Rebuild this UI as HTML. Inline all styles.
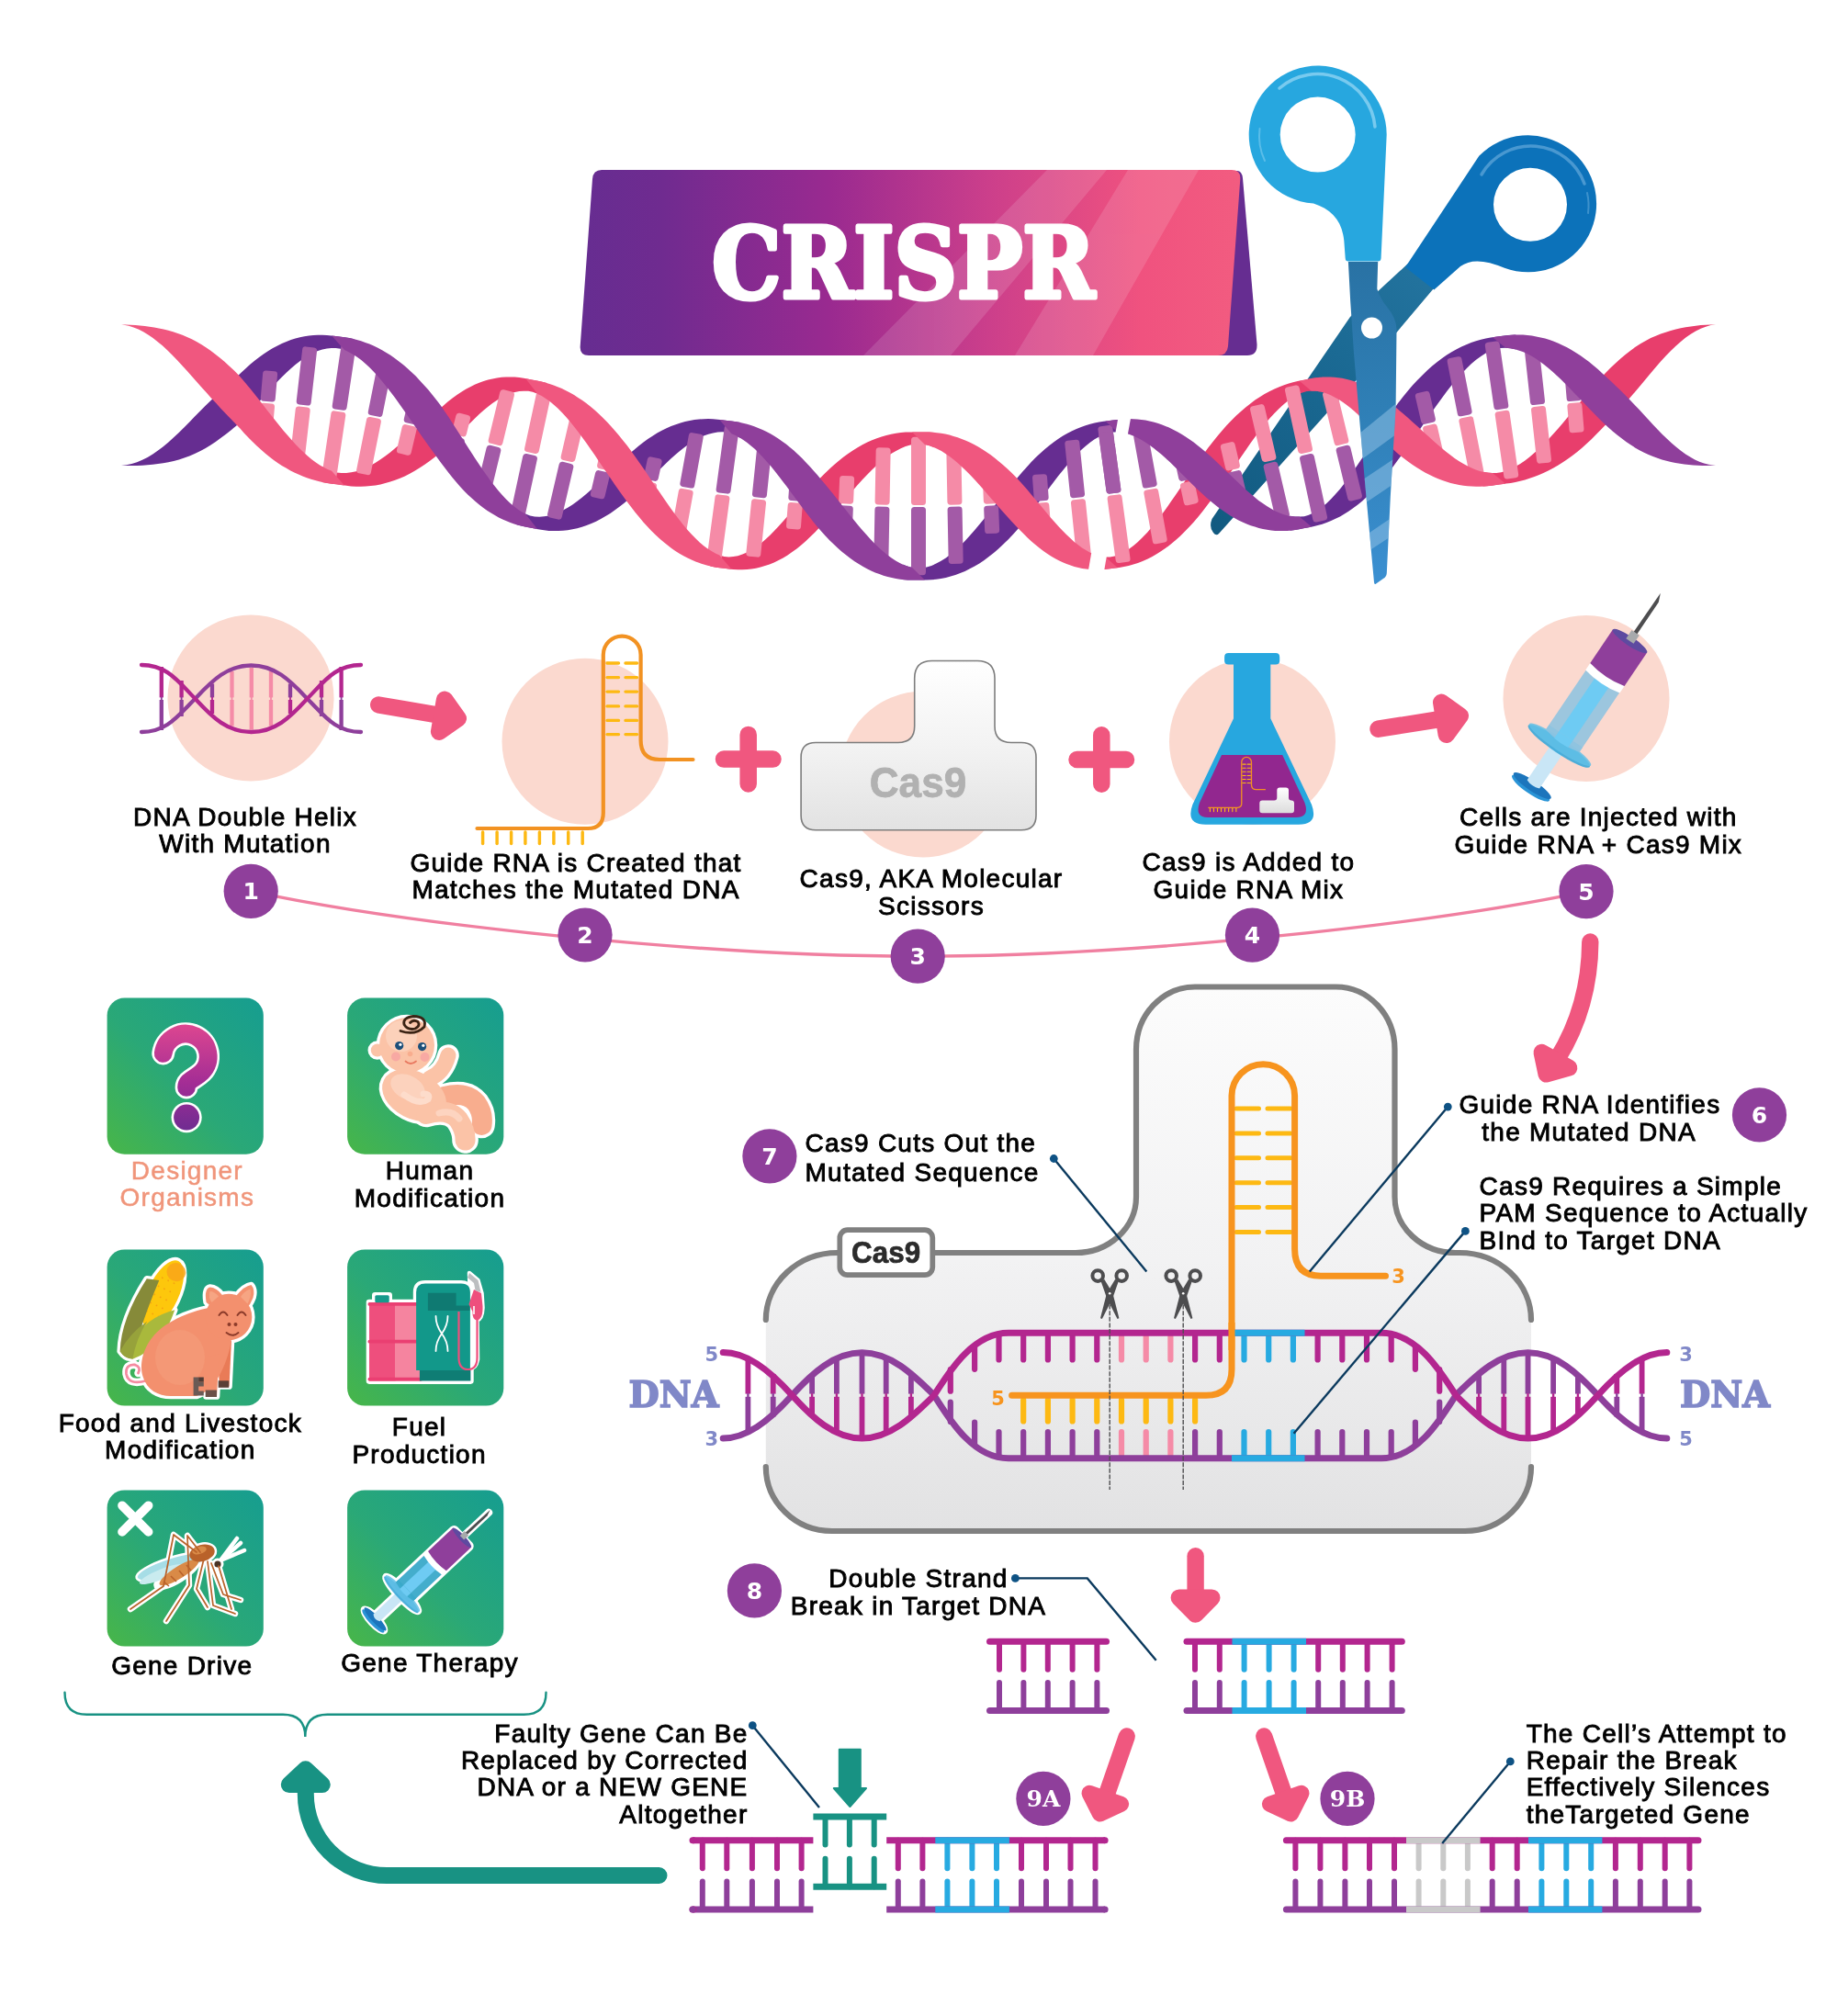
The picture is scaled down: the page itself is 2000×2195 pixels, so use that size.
<!DOCTYPE html>
<html lang="en"><head><meta charset="utf-8"><title>CRISPR</title>
<style>html,body{margin:0;padding:0;background:#fff}svg{display:block;will-change:transform}text{font-family:'Liberation Sans', sans-serif}</style>
</head><body>
<svg width="2000" height="2195" viewBox="0 0 2000 2195">
<rect width="2000" height="2195" fill="#fff"/>
<!-- top -->
<defs>
<linearGradient id="bnr" x1="0" y1="0" x2="1" y2="0">
<stop offset="0" stop-color="#662d91"/><stop offset="0.12" stop-color="#6f2b90"/><stop offset="0.38" stop-color="#9a2a90"/><stop offset="0.62" stop-color="#cc3f8b"/><stop offset="0.85" stop-color="#f0527f"/><stop offset="1" stop-color="#f25c80"/>
</linearGradient>
<clipPath id="bnrclip"><path d="M655 185H1341Q1351 185 1350.3 195L1337 377Q1336 387 1326 387H641Q631 387 631.7 377L645 195Q645.7 185 655 185Z"/></clipPath>
</defs>
<path d="M1330 188L1347 186Q1352 186 1353 194L1368.5 375Q1369 387 1358 387H1320Z" fill="#662d91"/>
<path d="M655 185H1341Q1351 185 1350.3 195L1337 377Q1336 387 1326 387H641Q631 387 631.7 377L645 195Q645.7 185 655 185Z" fill="url(#bnr)"/>
<g clip-path="url(#bnrclip)" fill="#fff" opacity="0.13">
<polygon points="1140,185 1205,185 1035,387 940,387"/>
<polygon points="1228,185 1305,185 1190,387 1105,387"/>
</g>
<text x="983.5" y="323.5" text-anchor="middle" style="font-family:'DejaVu Serif', 'Liberation Serif', serif" font-weight="bold" font-size="107" fill="#fff" stroke="#fff" stroke-width="5" stroke-linejoin="round" textLength="417" lengthAdjust="spacingAndGlyphs">CRISPR</text>

<defs><linearGradient id="bl2" x1="1560" y1="300" x2="1320" y2="580" gradientUnits="userSpaceOnUse">
<stop offset="0" stop-color="#23739e"/><stop offset="0.35" stop-color="#1b6a94"/><stop offset="1" stop-color="#125a80"/></linearGradient></defs>
<path d="M1535 285L1470 345L1319.5 565Q1316 574 1321 580Q1324 584 1327 581L1474 417L1566 308Z" fill="url(#bl2)"/>
<path d="M132 506.7 L137.7 506.2 L143.4 505 L149.1 503.2 L154.9 500.8 L160.6 497.9 L166.3 494.5 L172 490.5 L177.7 486.2 L183.4 481.4 L189.1 476.3 L194.8 470.9 L200.6 465.2 L206.3 459.5 L212 453.6 L217.7 447.8 L223.4 442.1 L229.1 436.6 L234.8 431.1 L240.5 425.7 L246.3 420.4 L252 415.3 L257.7 410.3 L262.8 405.5 L267.7 400.9 L272.6 396.6 L277.5 392.5 L282.4 388.7 L287.3 385.2 L292.2 382 L297.1 379.1 L302 376.4 L306.9 374 L311.8 372 L316.7 370.1 L321.6 368.6 L326.5 367.3 L331.4 366.3 L336.3 365.5 L341.2 365 L346.1 364.7 L351 364.7 L355.9 364.9 L360.8 365.4 L365.7 366 L370.7 366.7 L375.6 367.3 L380.6 368.1 L385.5 369.2 L385.5 386.5 L380.6 383.7 L375.6 381.4 L370.7 379.7 L365.7 378.9 L360.8 378.9 L355.9 379.4 L351 380.5 L346.1 382.1 L341.2 384.2 L336.3 386.8 L331.4 389.8 L326.5 393.3 L321.6 397.1 L316.7 401.3 L311.8 405.8 L306.9 410.6 L302 415.6 L297.1 420.8 L292.2 426.1 L287.3 431.5 L282.4 437 L277.5 442.4 L272.6 447.8 L267.7 453.1 L262.8 458.2 L257.7 463.2 L252 467.9 L246.3 472.5 L240.5 476.8 L234.8 480.9 L229.1 484.7 L223.4 488.2 L217.7 491.3 L212 494.1 L206.3 496.5 L200.6 498.6 L194.8 500.4 L189.1 501.9 L183.4 503.2 L177.7 504.2 L172 505.1 L166.3 505.8 L160.6 506.3 L154.9 506.7 L149.1 506.9 L143.4 506.9 L137.7 506.9 L132 506.7Z" fill="#662d91"/>
<path d="M350.7 507.9 L355.9 510.7 L361.2 512.9 L366.4 514.4 L371.7 515.1 L377.1 515 L382.4 514.3 L387.7 513.2 L393 511.5 L398.3 509.3 L403.6 506.7 L408.9 503.7 L414.2 500.3 L419.6 496.5 L424.9 492.4 L430.2 488.1 L435.5 483.5 L440.8 478.8 L446.1 474 L451.4 469.1 L456.7 464.2 L462.1 459.4 L467.4 454.7 L472.7 450.1 L478 445.7 L482.9 441.4 L487.7 437.3 L492.6 433.5 L497.4 430 L502.3 426.7 L507.1 423.8 L512 421.2 L516.8 418.8 L521.7 416.8 L526.5 415 L531.4 413.5 L536.2 412.4 L541.1 411.5 L546 410.8 L550.8 410.5 L555.7 410.4 L560.5 410.6 L565.4 411 L570.2 411.8 L575.1 412.7 L580 413.7 L585.2 414.7 L590.3 415.8 L595.5 417.1 L595.5 434.8 L590.3 431.5 L585.2 428.8 L580 426.8 L575.1 425.8 L570.2 425.7 L565.4 426.1 L560.5 427 L555.7 428.5 L550.8 430.5 L546 432.9 L541.1 435.8 L536.2 439.1 L531.4 442.8 L526.5 446.8 L521.7 451.1 L516.8 455.7 L512 460.4 L507.1 465.2 L502.3 470.2 L497.4 475.1 L492.6 480 L487.7 484.8 L482.9 489.5 L478 494.1 L472.7 498.3 L467.4 502.3 L462.1 506.1 L456.7 509.6 L451.4 512.8 L446.1 515.7 L440.8 518.4 L435.5 520.8 L430.2 522.8 L424.9 524.6 L419.6 526.1 L414.2 527.4 L408.9 528.4 L403.6 529.1 L398.3 529.5 L393 529.7 L387.7 529.7 L382.4 529.4 L377.1 528.8 L371.7 528.1 L366.4 527.3 L361.2 526.7 L355.9 525.9 L350.7 524.9Z" fill="#e83e6c"/>
<path d="M562.5 553.6 L567.4 556.9 L572.2 559.5 L577.1 561.4 L582.1 562.4 L587.3 562.7 L592.4 562.3 L597.6 561.4 L602.7 560 L607.8 558 L613 555.6 L618.1 552.8 L623.3 549.5 L628.4 545.8 L633.6 541.8 L638.7 537.5 L643.8 532.9 L649 528.2 L654.1 523.3 L659.3 518.4 L664.4 513.4 L669.6 508.5 L674.7 503.6 L679.9 498.9 L685 494.3 L690.1 489.9 L695.1 485.7 L700.2 481.8 L705.3 478.1 L710.4 474.7 L715.4 471.6 L720.5 468.8 L725.6 466.3 L730.6 464.1 L735.7 462.2 L740.8 460.5 L745.9 459.1 L750.9 458 L756 457.1 L761.1 456.5 L766.1 456.2 L771.2 456.1 L776.3 456.3 L781.4 456.7 L786.4 457.3 L791.5 458 L796.4 458.5 L801.3 459.2 L806.2 460.1 L806.2 477 L801.3 474.4 L796.4 472.3 L791.5 470.8 L786.4 470.3 L781.4 470.6 L776.3 471.4 L771.2 472.7 L766.1 474.5 L761.1 476.9 L756 479.6 L750.9 482.9 L745.9 486.5 L740.8 490.4 L735.7 494.7 L730.6 499.2 L725.6 504 L720.5 508.9 L715.4 513.9 L710.4 518.9 L705.3 524 L700.2 528.9 L695.1 533.8 L690.1 538.6 L685 543.1 L679.9 547.5 L674.7 551.5 L669.6 555.3 L664.4 558.9 L659.3 562.1 L654.1 565 L649 567.7 L643.8 570 L638.7 572 L633.6 573.7 L628.4 575.2 L623.3 576.3 L618.1 577.2 L613 577.8 L607.8 578.1 L602.7 578.1 L597.6 577.9 L592.4 577.3 L587.3 576.6 L582.1 575.6 L577.1 574.5 L572.2 573.6 L567.4 572.6 L562.5 571.3Z" fill="#662d91"/>
<path d="M773.3 599.3 L778.4 602.2 L783.4 604.4 L788.5 606 L793.5 606.5 L798.4 606.1 L803.3 605.2 L808.3 603.6 L813.2 601.5 L818.1 598.8 L823 595.6 L828 592 L832.9 587.8 L837.8 583.2 L842.7 578.3 L847.7 573.1 L852.6 567.6 L857.5 561.9 L862.4 556.1 L867.4 550.2 L872.3 544.3 L877.2 538.4 L882.1 532.6 L887.1 526.9 L892 521.4 L897.2 516.2 L902.4 511.2 L907.6 506.4 L912.9 502 L918.1 497.8 L923.3 494 L928.5 490.4 L933.7 487.2 L938.9 484.3 L944.2 481.6 L949.4 479.3 L954.6 477.3 L959.8 475.5 L965 474 L970.2 472.8 L975.5 471.8 L980.7 471.1 L985.9 470.6 L991.1 470.4 L996.3 470.4 L1001.5 470.5 L1006.8 470.4 L1012 470.5 L1017.2 470.9 L1017.2 487.2 L1012 485.3 L1006.8 483.9 L1001.5 483.2 L996.3 483.4 L991.1 484.4 L985.9 486 L980.7 488.2 L975.5 490.9 L970.2 494.1 L965 497.8 L959.8 502 L954.6 506.6 L949.4 511.5 L944.2 516.8 L938.9 522.3 L933.7 528 L928.5 533.9 L923.3 539.9 L918.1 545.9 L912.9 551.9 L907.6 557.8 L902.4 563.6 L897.2 569.2 L892 574.6 L887.1 579.7 L882.1 584.6 L877.2 589.2 L872.3 593.5 L867.4 597.5 L862.4 601.1 L857.5 604.4 L852.6 607.4 L847.7 610.1 L842.7 612.4 L837.8 614.4 L832.9 616.1 L828 617.5 L823 618.7 L818.1 619.5 L813.2 620.1 L808.3 620.3 L803.3 620.3 L798.4 620 L793.5 619.4 L788.5 618.8 L783.4 618.3 L778.4 617.5 L773.3 616.5Z" fill="#e83e6c"/>
<path d="M982.8 614.6 L988 616.6 L993.2 618.1 L998.5 618.8 L1003.7 618.6 L1008.9 617.6 L1014.1 615.9 L1019.3 613.6 L1024.5 610.8 L1029.8 607.4 L1035 603.4 L1040.2 599 L1045.4 594.2 L1050.6 588.9 L1055.8 583.2 L1061.1 577.3 L1066.3 571.1 L1071.5 564.8 L1076.7 558.3 L1081.9 551.7 L1087.1 545.1 L1092.4 538.6 L1097.6 532.2 L1102.8 525.9 L1108 519.8 L1112.9 514 L1117.9 508.4 L1122.8 503.1 L1127.7 498.1 L1132.6 493.4 L1137.6 489 L1142.5 484.9 L1147.4 481.2 L1152.3 477.8 L1157.3 474.6 L1162.2 471.8 L1167.1 469.2 L1172 467 L1177 465 L1181.9 463.2 L1186.8 461.7 L1191.7 460.5 L1196.7 459.5 L1201.6 458.7 L1206.5 458.2 L1211.5 457.6 L1216.6 456.9 L1221.6 456.4 L1226.7 456.2 L1226.7 472.1 L1221.6 471 L1216.6 470.4 L1211.5 470.4 L1206.5 471.4 L1201.6 473.1 L1196.7 475.4 L1191.7 478.3 L1186.8 481.7 L1181.9 485.7 L1177 490.1 L1172 495 L1167.1 500.3 L1162.2 505.9 L1157.3 511.9 L1152.3 518.1 L1147.4 524.5 L1142.5 531.1 L1137.6 537.7 L1132.6 544.4 L1127.7 551 L1122.8 557.6 L1117.9 564 L1112.9 570.2 L1108 576.2 L1102.8 581.9 L1097.6 587.4 L1092.4 592.6 L1087.1 597.4 L1081.9 601.9 L1076.7 606.1 L1071.5 609.9 L1066.3 613.4 L1061.1 616.5 L1055.8 619.3 L1050.6 621.9 L1045.4 624.1 L1040.2 626 L1035 627.6 L1029.8 628.9 L1024.5 630 L1019.3 630.8 L1014.1 631.3 L1008.9 631.6 L1003.7 631.6 L998.5 631.5 L993.2 631.6 L988 631.4 L982.8 631Z" fill="#662d91"/>
<path d="M1193.8 604.3 L1198.7 605.7 L1203.6 606.4 L1208.5 606.4 L1213.6 605.4 L1218.6 603.6 L1223.7 601.1 L1228.8 598 L1233.9 594.2 L1238.9 589.9 L1244 585 L1249.1 579.7 L1254.1 573.8 L1259.2 567.5 L1264.3 560.9 L1269.4 554 L1274.4 546.8 L1279.5 539.5 L1284.6 532 L1289.6 524.5 L1294.7 517 L1299.8 509.5 L1304.9 502.2 L1309.9 495.1 L1315 488.1 L1320.1 481.4 L1325.3 475 L1330.4 468.9 L1335.6 463.1 L1340.7 457.7 L1345.9 452.6 L1351 447.9 L1356.2 443.5 L1361.3 439.4 L1366.4 435.6 L1371.6 432.2 L1376.7 429.1 L1381.9 426.3 L1387 423.8 L1392.2 421.5 L1397.3 419.5 L1402.4 417.8 L1407.6 416.3 L1412.7 415.1 L1417.9 414.1 L1422.9 413.1 L1427.8 412.1 L1432.6 411.3 L1437.5 410.7 L1437.5 426.6 L1432.6 425.8 L1427.8 425.7 L1422.9 426.1 L1417.9 427.5 L1412.7 429.8 L1407.6 432.8 L1402.4 436.3 L1397.3 440.5 L1392.2 445.2 L1387 450.4 L1381.9 456.1 L1376.7 462.3 L1371.6 468.8 L1366.4 475.7 L1361.3 482.8 L1356.2 490.2 L1351 497.7 L1345.9 505.3 L1340.7 512.9 L1335.6 520.4 L1330.4 527.9 L1325.3 535.3 L1320.1 542.4 L1315 549.3 L1309.9 555.9 L1304.9 562.2 L1299.8 568.2 L1294.7 573.8 L1289.6 579.1 L1284.6 584 L1279.5 588.5 L1274.4 592.7 L1269.4 596.6 L1264.3 600.1 L1259.2 603.3 L1254.1 606.2 L1249.1 608.7 L1244 611 L1238.9 612.9 L1233.9 614.6 L1228.8 616 L1223.7 617.1 L1218.6 618 L1213.6 618.6 L1208.5 619.2 L1203.6 619.8 L1198.7 620.2 L1193.8 620.3Z" fill="#e83e6c"/>
<path d="M1404.5 561.8 L1409.7 562.5 L1414.8 562.6 L1420 562.2 L1424.9 560.7 L1429.8 558.5 L1434.6 555.6 L1439.5 552.1 L1444.3 548 L1449.2 543.3 L1454 538.1 L1458.9 532.4 L1463.8 526.3 L1468.6 519.8 L1473.5 512.9 L1478.3 505.7 L1483.2 498.4 L1488 490.9 L1492.9 483.3 L1497.7 475.6 L1502.6 468 L1507.4 460.5 L1512.3 453.1 L1517.1 446 L1522 439 L1527.3 432.3 L1532.6 425.8 L1537.9 419.6 L1543.3 413.8 L1548.6 408.4 L1553.9 403.3 L1559.2 398.6 L1564.5 394.3 L1569.8 390.3 L1575.1 386.6 L1580.4 383.3 L1585.8 380.3 L1591.1 377.6 L1596.4 375.2 L1601.7 373.1 L1607 371.3 L1612.3 369.8 L1617.6 368.5 L1622.9 367.5 L1628.3 366.8 L1633.6 366.1 L1639.2 365.3 L1644.7 364.8 L1650.3 364.5 L1650.3 380.5 L1644.7 379.3 L1639.2 378.8 L1633.6 378.9 L1628.3 380 L1622.9 382 L1617.6 384.6 L1612.3 387.9 L1607 391.8 L1601.7 396.3 L1596.4 401.4 L1591.1 406.9 L1585.8 413 L1580.4 419.4 L1575.1 426.2 L1569.8 433.4 L1564.5 440.7 L1559.2 448.3 L1553.9 455.9 L1548.6 463.6 L1543.3 471.3 L1537.9 478.9 L1532.6 486.4 L1527.3 493.7 L1522 500.8 L1517.1 507.5 L1512.3 513.9 L1507.4 520 L1502.6 525.8 L1497.7 531.2 L1492.9 536.3 L1488 541 L1483.2 545.4 L1478.3 549.4 L1473.5 553.1 L1468.6 556.5 L1463.8 559.6 L1458.9 562.4 L1454 564.8 L1449.2 567.1 L1444.3 569 L1439.5 570.7 L1434.6 572.1 L1429.8 573.2 L1424.9 574.2 L1420 575.1 L1414.8 576.2 L1409.7 577.1 L1404.5 577.7Z" fill="#662d91"/>
<path d="M1614.5 513.7 L1619.4 514.6 L1624.4 515.1 L1629.3 515 L1634.4 514.3 L1639.6 512.7 L1644.7 510.6 L1649.9 508 L1655.1 504.9 L1660.3 501.4 L1665.4 497.5 L1670.6 493.1 L1675.8 488.4 L1680.9 483.3 L1686.1 477.9 L1691.3 472.3 L1696.5 466.4 L1701.6 460.4 L1706.8 454.2 L1712 448 L1717.2 441.7 L1722.3 435.4 L1727.5 429.2 L1732.7 423.1 L1737.8 417.1 L1743 411.3 L1748.3 405.7 L1753.7 400.3 L1759.1 395.2 L1764.6 390.3 L1770 385.7 L1775.5 381.4 L1780.9 377.5 L1786.4 374 L1791.8 370.9 L1797.2 368.1 L1802.7 365.7 L1808.1 363.6 L1813.6 361.7 L1819 360 L1824.5 358.6 L1829.9 357.3 L1835.3 356.3 L1840.8 355.4 L1846.2 354.7 L1851.7 354.1 L1857.1 353.7 L1862.6 353.5 L1868 353.3 L1868 353.3 L1862.6 354.1 L1857.1 355.7 L1851.7 357.8 L1846.2 360.5 L1840.8 363.8 L1835.3 367.6 L1829.9 372 L1824.5 376.8 L1819 382 L1813.6 387.6 L1808.1 393.6 L1802.7 399.8 L1797.2 406.2 L1791.8 412.7 L1786.4 419.2 L1780.9 425.7 L1775.5 432.1 L1770 438.3 L1764.6 444.4 L1759.1 450.5 L1753.7 456.4 L1748.3 462.2 L1743 467.7 L1737.8 473.1 L1732.7 478.2 L1727.5 483.1 L1722.3 487.7 L1717.2 492 L1712 496 L1706.8 499.8 L1701.6 503.3 L1696.5 506.6 L1691.3 509.5 L1686.1 512.3 L1680.9 514.8 L1675.8 517 L1670.6 519 L1665.4 520.8 L1660.3 522.4 L1655.1 523.7 L1649.9 524.9 L1644.7 525.9 L1639.6 526.6 L1634.4 527.2 L1629.3 527.9 L1624.4 528.7 L1619.4 529.2 L1614.5 529.6Z" fill="#e83e6c"/>
<g transform="translate(291.4 438.1) rotate(5)"><rect x="-8" y="-34.4" width="16" height="33.4" rx="3.5" fill="#a35aa7"/><rect x="-8" y="1" width="16" height="33.4" rx="3.5" fill="#f58ba7"/></g>
<g transform="translate(330.2 442) rotate(6.5)"><rect x="-8" y="-64.5" width="16" height="63.5" rx="3.5" fill="#a35aa7"/><rect x="-8" y="1" width="16" height="63.5" rx="3.5" fill="#f58ba7"/></g>
<g transform="translate(369 447.1) rotate(8.5)"><rect x="-8" y="-75.2" width="16" height="74.2" rx="3.5" fill="#a35aa7"/><rect x="-8" y="1" width="16" height="74.2" rx="3.5" fill="#f58ba7"/></g>
<g transform="translate(407.8 453.9) rotate(11.3)"><rect x="-8" y="-63.5" width="16" height="62.5" rx="3.5" fill="#a35aa7"/><rect x="-8" y="1" width="16" height="62.5" rx="3.5" fill="#f58ba7"/></g>
<g transform="translate(446.6 462.3) rotate(13.1)"><rect x="-8" y="-33.2" width="16" height="32.2" rx="3.5" fill="#a35aa7"/><rect x="-8" y="1" width="16" height="32.2" rx="3.5" fill="#f58ba7"/></g>
<g transform="translate(499 475.1) rotate(14)"><rect x="-8" y="-24.9" width="16" height="23.9" rx="3.5" fill="#f58ba7"/><rect x="-8" y="1" width="16" height="23.9" rx="3.5" fill="#a35aa7"/></g>
<g transform="translate(538.5 484.9) rotate(13.6)"><rect x="-8" y="-61.2" width="16" height="60.2" rx="3.5" fill="#f58ba7"/><rect x="-8" y="1" width="16" height="60.2" rx="3.5" fill="#a35aa7"/></g>
<g transform="translate(578 494) rotate(12.2)"><rect x="-8" y="-75.2" width="16" height="74.2" rx="3.5" fill="#f58ba7"/><rect x="-8" y="1" width="16" height="74.2" rx="3.5" fill="#a35aa7"/></g>
<g transform="translate(617.5 502.9) rotate(13.1)"><rect x="-8" y="-63.3" width="16" height="62.3" rx="3.5" fill="#f58ba7"/><rect x="-8" y="1" width="16" height="62.3" rx="3.5" fill="#a35aa7"/></g>
<g transform="translate(657 512.2) rotate(13.2)"><rect x="-8" y="-30.8" width="16" height="29.8" rx="3.5" fill="#f58ba7"/><rect x="-8" y="1" width="16" height="29.8" rx="3.5" fill="#a35aa7"/></g>
<g transform="translate(708 523.8) rotate(12.1)"><rect x="-8" y="-26" width="16" height="25" rx="3.5" fill="#a35aa7"/><rect x="-8" y="1" width="16" height="25" rx="3.5" fill="#f58ba7"/></g>
<g transform="translate(747.5 531.7) rotate(10.3)"><rect x="-8" y="-60.7" width="16" height="59.7" rx="3.5" fill="#a35aa7"/><rect x="-8" y="1" width="16" height="59.7" rx="3.5" fill="#f58ba7"/></g>
<g transform="translate(787 538) rotate(7.7)"><rect x="-8" y="-75.1" width="16" height="74.1" rx="3.5" fill="#a35aa7"/><rect x="-8" y="1" width="16" height="74.1" rx="3.5" fill="#f58ba7"/></g>
<g transform="translate(826.5 542.7) rotate(5.9)"><rect x="-8" y="-63.8" width="16" height="62.8" rx="3.5" fill="#a35aa7"/><rect x="-8" y="1" width="16" height="62.8" rx="3.5" fill="#f58ba7"/></g>
<g transform="translate(866 546.3) rotate(4.3)"><rect x="-8" y="-29.9" width="16" height="28.9" rx="3.5" fill="#a35aa7"/><rect x="-8" y="1" width="16" height="28.9" rx="3.5" fill="#f58ba7"/></g>
<g transform="translate(921 549.5) rotate(2.3)"><rect x="-8" y="-31.4" width="16" height="30.4" rx="3.5" fill="#f58ba7"/><rect x="-8" y="1" width="16" height="30.4" rx="3.5" fill="#a35aa7"/></g>
<g transform="translate(960.5 550.6) rotate(1.1)"><rect x="-8" y="-63.3" width="16" height="62.3" rx="3.5" fill="#f58ba7"/><rect x="-8" y="1" width="16" height="62.3" rx="3.5" fill="#a35aa7"/></g>
<g transform="translate(1000 551) rotate(0)"><rect x="-8" y="-75.2" width="16" height="74.2" rx="3.5" fill="#f58ba7"/><rect x="-8" y="1" width="16" height="74.2" rx="3.5" fill="#a35aa7"/></g>
<g transform="translate(1039.5 550.6) rotate(-1.1)"><rect x="-8" y="-63.3" width="16" height="62.3" rx="3.5" fill="#f58ba7"/><rect x="-8" y="1" width="16" height="62.3" rx="3.5" fill="#a35aa7"/></g>
<g transform="translate(1079 549.5) rotate(-2.3)"><rect x="-8" y="-31.4" width="16" height="30.4" rx="3.5" fill="#f58ba7"/><rect x="-8" y="1" width="16" height="30.4" rx="3.5" fill="#a35aa7"/></g>
<g transform="translate(1134 546.3) rotate(-4.3)"><rect x="-8" y="-29.9" width="16" height="28.9" rx="3.5" fill="#a35aa7"/><rect x="-8" y="1" width="16" height="28.9" rx="3.5" fill="#f58ba7"/></g>
<g transform="translate(1173.5 542.7) rotate(-5.9)"><rect x="-8" y="-63.8" width="16" height="62.8" rx="3.5" fill="#a35aa7"/><rect x="-8" y="1" width="16" height="62.8" rx="3.5" fill="#f58ba7"/></g>
<g transform="translate(1213 538) rotate(-7.7)"><rect x="-8" y="-75.1" width="16" height="74.1" rx="3.5" fill="#a35aa7"/><rect x="-8" y="1" width="16" height="74.1" rx="3.5" fill="#f58ba7"/></g>
<g transform="translate(1252.5 531.7) rotate(-10.3)"><rect x="-8" y="-60.7" width="16" height="59.7" rx="3.5" fill="#a35aa7"/><rect x="-8" y="1" width="16" height="59.7" rx="3.5" fill="#f58ba7"/></g>
<g transform="translate(1292 523.8) rotate(-12.1)"><rect x="-8" y="-26" width="16" height="25" rx="3.5" fill="#a35aa7"/><rect x="-8" y="1" width="16" height="25" rx="3.5" fill="#f58ba7"/></g>
<g transform="translate(1343 512.2) rotate(-13.2)"><rect x="-8" y="-30.8" width="16" height="29.8" rx="3.5" fill="#f58ba7"/><rect x="-8" y="1" width="16" height="29.8" rx="3.5" fill="#a35aa7"/></g>
<g transform="translate(1382.5 502.9) rotate(-13.1)"><rect x="-8" y="-63.3" width="16" height="62.3" rx="3.5" fill="#f58ba7"/><rect x="-8" y="1" width="16" height="62.3" rx="3.5" fill="#a35aa7"/></g>
<g transform="translate(1422 494) rotate(-12.2)"><rect x="-8" y="-75.2" width="16" height="74.2" rx="3.5" fill="#f58ba7"/><rect x="-8" y="1" width="16" height="74.2" rx="3.5" fill="#a35aa7"/></g>
<g transform="translate(1461.5 484.9) rotate(-13.6)"><rect x="-8" y="-61.2" width="16" height="60.2" rx="3.5" fill="#f58ba7"/><rect x="-8" y="1" width="16" height="60.2" rx="3.5" fill="#a35aa7"/></g>
<g transform="translate(1501 475.1) rotate(-14)"><rect x="-8" y="-24.9" width="16" height="23.9" rx="3.5" fill="#f58ba7"/><rect x="-8" y="1" width="16" height="23.9" rx="3.5" fill="#a35aa7"/></g>
<g transform="translate(1556 461.7) rotate(-13)"><rect x="-8" y="-35.6" width="16" height="34.6" rx="3.5" fill="#a35aa7"/><rect x="-8" y="1" width="16" height="34.6" rx="3.5" fill="#f58ba7"/></g>
<g transform="translate(1595.5 453.3) rotate(-11.1)"><rect x="-8" y="-65.3" width="16" height="64.3" rx="3.5" fill="#a35aa7"/><rect x="-8" y="1" width="16" height="64.3" rx="3.5" fill="#f58ba7"/></g>
<g transform="translate(1635 446.5) rotate(-8.2)"><rect x="-8" y="-75.1" width="16" height="74.1" rx="3.5" fill="#a35aa7"/><rect x="-8" y="1" width="16" height="74.1" rx="3.5" fill="#f58ba7"/></g>
<g transform="translate(1674.5 441.5) rotate(-6.3)"><rect x="-8" y="-63" width="16" height="62" rx="3.5" fill="#a35aa7"/><rect x="-8" y="1" width="16" height="62" rx="3.5" fill="#f58ba7"/></g>
<g transform="translate(1714 437.7) rotate(-4.8)"><rect x="-8" y="-33.3" width="16" height="32.3" rx="3.5" fill="#a35aa7"/><rect x="-8" y="1" width="16" height="32.3" rx="3.5" fill="#f58ba7"/></g>
<path d="M132 353.3 L137.1 353.5 L142.2 353.7 L147.4 354 L152.5 354.4 L157.6 355 L162.7 355.7 L167.9 356.5 L173 357.5 L178.1 358.6 L183.2 359.8 L188.4 361.3 L193.5 362.9 L198.6 364.8 L203.7 366.9 L208.8 369.2 L214 371.9 L219.1 374.9 L224.2 378.2 L229.3 381.8 L234.5 385.7 L239.6 389.8 L244.7 394.1 L249.8 398.7 L255 403.4 L259.9 408.4 L264.3 413.5 L268.7 418.7 L273.1 424.1 L277.5 429.6 L281.9 435.1 L286.3 440.8 L290.7 446.4 L295.1 452 L299.5 457.6 L303.9 463 L308.3 468.4 L312.7 473.6 L317.1 478.6 L321.5 483.4 L325.9 488 L330.3 492.3 L334.7 496.3 L339.1 499.9 L343.5 503.2 L347.9 506.2 L352.3 508.8 L356.7 511 L361.1 512.8 L375 528.6 L370.4 527.9 L365.9 527.3 L361.3 526.7 L356.8 526.1 L352.2 525.3 L347.7 524.3 L343.1 523.1 L338.6 521.8 L334.1 520.2 L329.5 518.5 L325 516.6 L320.4 514.5 L315.9 512.2 L311.4 509.6 L306.8 506.9 L302.3 503.9 L297.7 500.7 L293.2 497.2 L288.6 493.5 L284.1 489.6 L279.6 485.5 L275 481.1 L270.5 476.5 L265.9 471.7 L261.4 466.6 L256.5 461.4 L251.2 456 L245.9 450.5 L240.6 444.9 L235.3 439.1 L230 433.4 L224.8 427.6 L219.5 421.7 L214.2 415.7 L208.9 409.7 L203.6 403.7 L198.3 397.9 L193 392.2 L187.7 386.7 L182.4 381.5 L177.1 376.6 L171.8 372.2 L166.5 368.1 L161.3 364.4 L156 361.3 L150.7 358.6 L145.4 356.4 L140.1 354.7Z" fill="#f0577f"/>
<path d="M361.1 365.4 L365.6 366 L370.2 366.6 L374.7 367.2 L379.3 367.9 L383.9 368.8 L388.5 370 L393.1 371.3 L397.7 372.9 L402.2 374.6 L406.8 376.6 L411.4 378.8 L416 381.2 L420.6 383.9 L425.2 386.8 L429.7 389.9 L434.3 393.4 L438.9 397 L443.5 401 L448.1 405.2 L452.7 409.6 L457.2 414.4 L461.8 419.4 L466.4 424.6 L471 430.2 L475.6 435.9 L480 441.8 L484.2 447.9 L488.4 454.1 L492.5 460.5 L496.7 466.9 L500.9 473.5 L505.1 480.1 L509.3 486.7 L513.5 493.2 L517.7 499.7 L521.9 506 L526 512.2 L530.2 518.1 L534.4 523.9 L538.6 529.3 L542.8 534.4 L547 539.2 L551.2 543.7 L555.4 547.7 L559.5 551.3 L563.7 554.5 L567.9 557.2 L572.1 559.4 L585.3 576.2 L580.8 575.3 L576.5 574.4 L572.3 573.7 L568.1 572.8 L564 571.7 L559.8 570.4 L555.6 569 L551.4 567.3 L547.2 565.4 L543 563.4 L538.8 561.1 L534.6 558.6 L530.5 555.9 L526.3 552.9 L522.1 549.7 L517.9 546.3 L513.7 542.6 L509.5 538.7 L505.3 534.4 L501.1 530 L497 525.2 L492.8 520.3 L488.6 515 L484.4 509.5 L480.2 503.9 L475.8 497.9 L471.3 491.7 L466.7 485.4 L462.1 478.9 L457.5 472.4 L452.9 465.7 L448.3 459.1 L443.8 452.5 L439.2 445.9 L434.6 439.4 L430 433.1 L425.4 427 L420.8 421 L416.3 415.4 L411.7 410 L407.1 404.9 L402.5 400.3 L397.9 396 L393.3 392.1 L388.8 388.7 L384.2 385.7 L379.6 383.2 L375 381.1Z" fill="#8f3f9b"/>
<path d="M572.1 412.1 L576.3 413 L580.6 413.8 L585 414.6 L589.5 415.6 L593.9 416.7 L598.3 418 L602.8 419.5 L607.2 421.2 L611.7 423.1 L616.1 425.3 L620.5 427.6 L625 430.1 L629.4 432.9 L633.8 435.8 L638.3 439.1 L642.7 442.5 L647.2 446.2 L651.6 450.2 L656 454.4 L660.5 458.9 L664.9 463.7 L669.3 468.7 L673.8 473.9 L678.2 479.4 L682.7 485 L687.1 490.9 L691.4 497 L695.8 503.2 L700.2 509.5 L704.6 515.9 L708.9 522.4 L713.3 528.9 L717.7 535.3 L722.1 541.7 L726.4 548.1 L730.8 554.2 L735.2 560.2 L739.6 566 L743.9 571.5 L748.3 576.7 L752.7 581.6 L757.1 586.1 L761.4 590.2 L765.8 594 L770.2 597.3 L774.6 600.1 L778.9 602.5 L783.3 604.4 L796.5 619.8 L792.2 619.3 L787.9 618.8 L783.6 618.3 L779.2 617.7 L774.8 616.8 L770.4 615.8 L766.1 614.6 L761.7 613.1 L757.3 611.5 L752.9 609.6 L748.6 607.6 L744.2 605.2 L739.8 602.7 L735.4 599.9 L731.1 596.9 L726.7 593.6 L722.3 590.1 L717.9 586.3 L713.6 582.2 L709.2 577.9 L704.8 573.3 L700.4 568.4 L696.1 563.3 L691.7 557.9 L687.3 552.3 L682.9 546.5 L678.5 540.5 L674 534.3 L669.6 528 L665.2 521.5 L660.7 515 L656.3 508.4 L651.8 501.9 L647.4 495.3 L643 488.9 L638.5 482.6 L634.1 476.4 L629.7 470.4 L625.2 464.7 L620.8 459.2 L616.3 454.1 L611.9 449.3 L607.5 444.8 L603 440.8 L598.6 437.1 L594.2 433.9 L589.7 431.1 L585.3 428.9Z" fill="#f0577f"/>
<path d="M783.3 456.9 L787.7 457.5 L792 458 L796.3 458.5 L800.5 459 L804.8 459.8 L809 460.7 L813.3 461.8 L817.5 463 L821.8 464.5 L826 466.2 L830.3 468 L834.5 470.1 L838.8 472.3 L843 474.8 L847.3 477.5 L851.5 480.4 L855.8 483.6 L860 487 L864.3 490.6 L868.5 494.4 L872.8 498.5 L877 502.9 L881.3 507.4 L885.5 512.2 L889.8 517.1 L894.1 522.3 L898.6 527.6 L903.1 533.1 L907.6 538.6 L912.1 544.2 L916.6 549.9 L921.1 555.5 L925.6 561.2 L930.1 566.7 L934.6 572.2 L939.1 577.5 L943.6 582.6 L948.1 587.6 L952.6 592.2 L957.1 596.6 L961.6 600.6 L966.1 604.3 L970.6 607.6 L975.1 610.6 L979.6 613.1 L984.1 615.2 L988.6 616.8 L993.1 618 L1006.9 631.6 L1002.4 631.6 L997.9 631.5 L993.4 631.6 L988.9 631.5 L984.4 631.2 L979.9 630.7 L975.4 630 L970.9 629.1 L966.4 628 L961.9 626.7 L957.4 625.1 L952.9 623.4 L948.4 621.4 L943.9 619.2 L939.4 616.8 L934.9 614.1 L930.4 611.2 L925.9 608 L921.4 604.6 L916.9 600.9 L912.4 597 L907.9 592.8 L903.4 588.4 L898.9 583.7 L894.4 578.8 L890 573.8 L885.7 568.5 L881.5 563.1 L877.2 557.6 L873 551.9 L868.7 546.2 L864.5 540.5 L860.2 534.8 L856 529 L851.7 523.4 L847.5 517.9 L843.2 512.5 L839 507.3 L834.7 502.4 L830.5 497.7 L826.2 493.2 L822 489.1 L817.7 485.4 L813.5 482 L809.2 478.9 L805 476.3 L800.7 474.1 L796.5 472.3Z" fill="#8f3f9b"/>
<path d="M993.1 470.4 L997.6 470.4 L1002.1 470.5 L1006.6 470.4 L1011.1 470.5 L1015.6 470.7 L1020.1 471.2 L1024.6 471.8 L1029.1 472.6 L1033.6 473.6 L1038.1 474.9 L1042.6 476.3 L1047.1 477.9 L1051.6 479.7 L1056.1 481.8 L1060.6 484 L1065.1 486.5 L1069.6 489.2 L1074.1 492.2 L1078.6 495.3 L1083.1 498.7 L1087.6 502.4 L1092.1 506.2 L1096.6 510.3 L1101.1 514.6 L1105.6 519 L1110 523.7 L1114.3 528.4 L1118.5 533.3 L1122.8 538.4 L1127 543.4 L1131.3 548.5 L1135.5 553.6 L1139.8 558.7 L1144 563.7 L1148.3 568.6 L1152.5 573.3 L1156.8 577.8 L1161 582.1 L1165.3 586.1 L1169.5 589.9 L1173.8 593.3 L1178 596.4 L1182.3 599.1 L1186.5 601.4 L1190.8 603.3 L1195 604.7 L1199.3 605.8 L1203.5 606.3 L1216.7 618.3 L1212.3 618.7 L1208 619.2 L1203.7 619.8 L1199.5 620.2 L1195.2 620.3 L1191 620.3 L1186.7 620 L1182.5 619.6 L1178.2 618.9 L1174 618 L1169.7 616.9 L1165.5 615.6 L1161.2 614 L1157 612.3 L1152.7 610.3 L1148.5 608 L1144.2 605.5 L1140 602.8 L1135.7 599.8 L1131.5 596.6 L1127.2 593.1 L1123 589.4 L1118.7 585.5 L1114.5 581.3 L1110.2 577 L1105.9 572.4 L1101.4 567.7 L1096.9 562.8 L1092.4 557.8 L1087.9 552.7 L1083.4 547.6 L1078.9 542.4 L1074.4 537.2 L1069.9 532.1 L1065.4 527 L1060.9 522.1 L1056.4 517.3 L1051.9 512.7 L1047.4 508.4 L1042.9 504.3 L1038.4 500.5 L1033.9 497 L1029.4 493.9 L1024.9 491.1 L1020.4 488.7 L1015.9 486.7 L1011.4 485.1 L1006.9 483.9Z" fill="#f0577f"/>
<path d="M1203.5 458.5 L1207.8 458.1 L1212.1 457.6 L1216.4 457 L1220.8 456.5 L1225.2 456.2 L1229.6 456.1 L1233.9 456.2 L1238.3 456.5 L1242.7 457 L1247.1 457.6 L1251.4 458.5 L1255.8 459.5 L1260.2 460.8 L1264.6 462.3 L1268.9 463.9 L1273.3 465.8 L1277.7 467.9 L1282.1 470.2 L1286.4 472.7 L1290.8 475.5 L1295.2 478.4 L1299.6 481.6 L1303.9 485 L1308.3 488.5 L1312.7 492.2 L1317.1 496.1 L1321.5 500.1 L1326 504.2 L1330.4 508.4 L1334.8 512.7 L1339.3 517 L1343.7 521.3 L1348.2 525.5 L1352.6 529.7 L1357 533.7 L1361.5 537.6 L1365.9 541.3 L1370.3 544.9 L1374.8 548.1 L1379.2 551.1 L1383.7 553.8 L1388.1 556.2 L1392.5 558.2 L1397 559.9 L1401.4 561.2 L1405.8 562.1 L1410.3 562.6 L1414.7 562.6 L1427.9 573.6 L1423.7 574.4 L1419.4 575.2 L1415 576.1 L1410.5 576.9 L1406.1 577.5 L1401.7 577.9 L1397.2 578.1 L1392.8 578.1 L1388.3 577.9 L1383.9 577.4 L1379.5 576.8 L1375 576 L1370.6 574.9 L1366.2 573.6 L1361.7 572.2 L1357.3 570.4 L1352.8 568.5 L1348.4 566.4 L1344 564 L1339.5 561.4 L1335.1 558.6 L1330.7 555.5 L1326.2 552.2 L1321.8 548.8 L1317.3 545.1 L1312.9 541.3 L1308.6 537.3 L1304.2 533.2 L1299.8 529 L1295.4 524.7 L1291.1 520.3 L1286.7 516 L1282.3 511.6 L1277.9 507.3 L1273.6 503.1 L1269.2 499.1 L1264.8 495.1 L1260.4 491.4 L1256.1 487.9 L1251.7 484.7 L1247.3 481.7 L1242.9 479 L1238.6 476.7 L1234.2 474.7 L1229.8 473 L1225.4 471.8 L1221.1 470.9 L1216.7 470.4Z" fill="#8f3f9b"/>
<path d="M1414.7 414.7 L1419.2 413.9 L1423.5 413 L1427.7 412.1 L1431.9 411.4 L1436 410.9 L1440.2 410.5 L1444.4 410.4 L1448.6 410.4 L1452.8 410.7 L1457 411.2 L1461.2 411.8 L1465.4 412.7 L1469.5 413.8 L1473.7 415.1 L1477.9 416.6 L1482.1 418.3 L1486.3 420.3 L1490.5 422.5 L1494.7 424.9 L1498.9 427.5 L1503 430.3 L1507.2 433.4 L1511.4 436.6 L1515.6 440.1 L1519.8 443.7 L1524.2 447.5 L1528.7 451.3 L1533.3 455.3 L1537.9 459.4 L1542.5 463.5 L1547.1 467.7 L1551.7 471.9 L1556.2 476.1 L1560.8 480.3 L1565.4 484.3 L1570 488.2 L1574.6 492 L1579.2 495.5 L1583.7 498.9 L1588.3 502 L1592.9 504.8 L1597.5 507.3 L1602.1 509.5 L1606.7 511.4 L1611.2 512.9 L1615.8 514 L1620.4 514.7 L1625 515.1 L1639.3 526.7 L1634.5 527.2 L1629.8 527.8 L1625.3 528.5 L1620.7 529.1 L1616.1 529.5 L1611.5 529.7 L1606.9 529.7 L1602.3 529.6 L1597.8 529.2 L1593.2 528.7 L1588.6 527.9 L1584 527 L1579.4 525.9 L1574.8 524.5 L1570.3 523 L1565.7 521.2 L1561.1 519.3 L1556.5 517.1 L1551.9 514.7 L1547.3 512.1 L1542.8 509.3 L1538.2 506.3 L1533.6 503 L1529 499.6 L1524.4 496 L1520 492.3 L1515.8 488.3 L1511.6 484.2 L1507.5 480 L1503.3 475.8 L1499.1 471.5 L1494.9 467.3 L1490.7 463.1 L1486.5 458.9 L1482.3 454.9 L1478.1 451 L1474 447.2 L1469.8 443.7 L1465.6 440.5 L1461.4 437.5 L1457.2 434.7 L1453 432.4 L1448.8 430.3 L1444.6 428.6 L1440.5 427.3 L1436.3 426.3 L1432.1 425.8 L1427.9 425.7Z" fill="#f0577f"/>
<path d="M1625 367.2 L1629.6 366.6 L1634.3 366 L1639.1 365.4 L1643.8 364.9 L1648.6 364.6 L1653.4 364.5 L1658.2 364.6 L1663 365 L1667.8 365.6 L1672.6 366.4 L1677.4 367.4 L1682.2 368.6 L1687 370.1 L1691.8 371.8 L1696.6 373.7 L1701.3 375.9 L1706.1 378.3 L1710.9 381 L1715.7 383.9 L1720.5 387 L1725.3 390.5 L1730.1 394.1 L1734.9 398 L1739.7 402.1 L1744.5 406.4 L1749.4 410.9 L1754.4 415.6 L1759.5 420.4 L1764.5 425.3 L1769.5 430.3 L1774.6 435.4 L1779.6 440.7 L1784.7 446.1 L1789.7 451.5 L1794.8 457 L1799.8 462.4 L1804.8 467.7 L1809.9 472.9 L1814.9 477.8 L1820 482.5 L1825 486.8 L1830 490.8 L1835.1 494.4 L1840.1 497.6 L1845.2 500.4 L1850.2 502.7 L1855.3 504.5 L1860.3 505.8 L1868 506.7 L1863.1 506.8 L1858.2 506.9 L1853.4 506.9 L1848.5 506.7 L1843.6 506.4 L1838.7 506 L1833.8 505.5 L1829 504.8 L1824.1 503.9 L1819.2 502.9 L1814.3 501.7 L1809.4 500.4 L1804.5 498.8 L1799.7 497.1 L1794.8 495 L1789.9 492.8 L1785 490.2 L1780.1 487.4 L1775.3 484.3 L1770.4 480.9 L1765.5 477.2 L1760.6 473.4 L1755.7 469.4 L1750.9 465.2 L1746 460.8 L1741.4 456.2 L1736.7 451.6 L1732.1 446.8 L1727.5 442 L1722.8 437.1 L1718.2 432.3 L1713.5 427.4 L1708.9 422.6 L1704.3 417.9 L1699.6 413.3 L1695 408.9 L1690.4 404.7 L1685.7 400.7 L1681.1 396.9 L1676.4 393.5 L1671.8 390.3 L1667.2 387.5 L1662.5 385.1 L1657.9 383 L1653.2 381.4 L1648.6 380.1 L1644 379.2 L1639.3 378.8Z" fill="#8f3f9b"/>
<path d="M1225.5 448L1219 484" stroke="#fff" stroke-width="13.5" fill="none"/>
<path d="M1200 584L1192 630" stroke="#fff" stroke-width="17" fill="none"/>
<g transform="translate(1213 538) rotate(-7.7)"><rect x="-8" y="-68.1" width="16" height="67.1" rx="3.5" fill="#a35aa7"/></g>
<defs>
<linearGradient id="bl1" x1="0" y1="285" x2="0" y2="640" gradientUnits="userSpaceOnUse">
<stop offset="0" stop-color="#2972a4"/><stop offset="0.45" stop-color="#2f7fb6"/><stop offset="1" stop-color="#3b90d2"/></linearGradient>
<clipPath id="bl1clip"><path id="bl1p" d="M1467.9 285H1500.2L1499.3 314.5Q1503 326 1510 334Q1520 346 1520.5 358L1519.6 444L1513.8 541L1509.8 624Q1509.5 628 1506 630L1497.5 636Q1496.2 636.5 1496 634L1485.7 521.5L1474.1 386L1470.2 328Z"/></clipPath>
</defs>
<!-- dark blue handle -->
<path d="M1530 291L1610.3 169.8A74.5 74.5 0 1 1 1638 291.8Q1606 278 1590 290L1561.3 315.4Z M1706 222.8A40 40 0 1 0 1626 222.8A40 40 0 1 0 1706 222.8Z" fill="#0c72ba" fill-rule="evenodd"/>
<path d="M1613 190A62 62 0 0 1 1725 200" fill="none" stroke="#5ea6d8" stroke-width="3.5" stroke-linecap="round" opacity="0.75"/>
<path d="M1728 210A62 62 0 0 1 1729 232" fill="none" stroke="#5ea6d8" stroke-width="2" stroke-linecap="round" opacity="0.6"/>
<!-- front blade -->
<path d="M1467.9 285H1500.2L1499.3 314.5Q1503 326 1510 334Q1520 346 1520.5 358L1519.6 444L1513.8 541L1509.8 624Q1509.5 628 1506 630L1497.5 636Q1496.2 636.5 1496 634L1485.7 521.5L1474.1 386L1470.2 328Z" fill="url(#bl1)"/>
<g clip-path="url(#bl1clip)" fill="#8fc0e3" opacity="0.55">
<polygon points="1480,472 1524,436 1524,470 1480,502"/>
<polygon points="1484,522 1520,498 1520,525 1486,548"/>
<polygon points="1488,582 1516,563 1516,583 1490,600"/>
</g>
<circle cx="1493.5" cy="357" r="11.5" fill="#fff"/>
<!-- light blue handle -->
<path d="M1509.7 146.6L1503.6 281Q1503.5 284.5 1500 284.5H1468Q1464.7 284.5 1464.7 281L1463.3 262C1461 240 1450 228 1430 221.45A75 75 0 1 1 1509.7 146.6Z M1475.7 146.6A41 41 0 1 0 1393.7 146.6A41 41 0 1 0 1475.7 146.6Z" fill="#27a7df" fill-rule="evenodd"/>
<path d="M1393 96A63 63 0 0 1 1497 138" fill="none" stroke="#8dd3f3" stroke-width="3.5" stroke-linecap="round" opacity="0.8"/>
<path d="M1371.5 140A63 63 0 0 0 1377 175" fill="none" stroke="#8dd3f3" stroke-width="2" stroke-linecap="round" opacity="0.5"/>

<!-- steps -->
<path d="M273.2 970.3C440 1006 760 1041.2 999.4 1041.2C1238.8 1041.2 1558.8 1006 1727 970.6" fill="none" stroke="#f07fa0" stroke-width="3.4"/>
<circle cx="273" cy="760" r="90.5" fill="#fbd9cf"/>
<circle cx="637" cy="807.3" r="90.5" fill="#fbd9cf"/>
<circle cx="1005" cy="843" r="90.5" fill="#fbd9cf"/>
<circle cx="1363.5" cy="807.4" r="90.5" fill="#fbd9cf"/>
<circle cx="1727" cy="760.4" r="90.5" fill="#fbd9cf"/>
<g fill="none" stroke-width="4.3"><path d="M175.8 726V759.4" stroke="#b3268f"/><path d="M175.8 762V795" stroke="#8e3f9b"/><path d="M175.8 758.7V762.7" stroke="#8e3f9b" stroke-width="1.8"/><path d="M197.6 741V759.4" stroke="#b3268f"/><path d="M197.6 762V780" stroke="#8e3f9b"/><path d="M197.6 758.7V762.7" stroke="#8e3f9b" stroke-width="1.8"/><path d="M231 744.5V759.4" stroke="#8e3f9b"/><path d="M231 762V777" stroke="#b3268f"/><path d="M231 758.7V762.7" stroke="#b3268f" stroke-width="1.8"/><path d="M252.5 731V759.4" stroke="#f58ba7"/><path d="M252.5 762V790.5" stroke="#f58ba7"/><path d="M252.5 758.7V762.7" stroke="#f58ba7" stroke-width="1.8"/><path d="M273.8 727V759.4" stroke="#f58ba7"/><path d="M273.8 762V794.5" stroke="#f58ba7"/><path d="M273.8 758.7V762.7" stroke="#f58ba7" stroke-width="1.8"/><path d="M295 731V759.4" stroke="#f58ba7"/><path d="M295 762V790.5" stroke="#f58ba7"/><path d="M295 758.7V762.7" stroke="#f58ba7" stroke-width="1.8"/><path d="M316 744.5V759.4" stroke="#8e3f9b"/><path d="M316 762V777" stroke="#b3268f"/><path d="M316 758.7V762.7" stroke="#b3268f" stroke-width="1.8"/><path d="M350 741V759.4" stroke="#b3268f"/><path d="M350 762V780" stroke="#8e3f9b"/><path d="M350 758.7V762.7" stroke="#8e3f9b" stroke-width="1.8"/><path d="M371.6 726V759.4" stroke="#b3268f"/><path d="M371.6 762V795" stroke="#8e3f9b"/><path d="M371.6 758.7V762.7" stroke="#8e3f9b" stroke-width="1.8"/><path d="M154 797C182 797 194 779 212.5 760.7C232 740 248 724.5 273.5 724.5C299 724.5 315 740 334.5 760.7C353 779 365 797 393 797" stroke="#8e3f9b" stroke-linecap="round"/><path d="M154 724C182 724 194 742 212.5 760.7C232 782 248 797 273.5 797C299 797 315 782 334.5 760.7C353 742 365 724 393 724" stroke="#b3268f" stroke-linecap="round"/></g>
<path d="M412.2 767.5L481.1 779.2" stroke="#f0577f" stroke-width="18.4" stroke-linecap="round" fill="none"/><path d="M498.8 782.3L478.1 796.7L484.1 761.7Z" fill="#f0577f" stroke="#f0577f" stroke-width="18.4" stroke-linejoin="round"/>
<g transform="translate(0 0) scale(1.0)" fill="none" stroke-linecap="round"><path d="M519.5 902H640Q656.8 902 656.8 885V713A20.4 20.4 0 0 1 697.6 713V806Q697.6 827 718 827H754.5" stroke="#f29222" stroke-width="4.2"/><g stroke="#fdb913" stroke-width="3.444"><path d="M661 722H673.5M681 722H693.5"/><path d="M661 737.6H673.5M681 737.6H693.5"/><path d="M661 753.1H673.5M681 753.1H693.5"/><path d="M661 768.9H673.5M681 768.9H693.5"/><path d="M661 784.4H673.5M681 784.4H693.5"/><path d="M661 799.6H673.5M681 799.6H693.5"/><path d="M525.6 906V918.5"/><path d="M541.1 906V918.5"/><path d="M556.6 906V918.5"/><path d="M571.9 906V918.5"/><path d="M587.4 906V918.5"/><path d="M602.9 906V918.5"/><path d="M618.7 906V918.5"/><path d="M634.2 906V918.5"/></g></g>
<path d="M788 826.6H841.5M814.7 799.9V853.4" stroke="#f0577f" stroke-width="18.5" stroke-linecap="round" fill="none"/>
<defs><linearGradient id="c9g" x1="0" y1="719" x2="0" y2="904" gradientUnits="userSpaceOnUse"><stop offset="0" stop-color="#ffffff"/><stop offset="0.5" stop-color="#f3f3f3"/><stop offset="1" stop-color="#e2e2e2"/></linearGradient></defs>
<path d="M888.1 808.5H977.7Q995.7 808.5 995.7 790.5V738.5Q995.7 719.5 1014.7 719.5H1064Q1083 719.5 1083 738.5V790.5Q1083 808.5 1101 808.5H1112Q1128 808.5 1128 824.5V887.7Q1128 903.7 1112 903.7H888.1Q872.1 903.7 872.1 887.7V824.5Q872.1 808.5 888.1 808.5Z" fill="url(#c9g)" stroke="#7d7d7d" stroke-width="1.6"/>
<text x="999.5" y="867.8" text-anchor="middle" font-weight="bold" font-size="45.5" fill="#b1b1b1" stroke="#b1b1b1" stroke-width="0.8" textLength="105.5" lengthAdjust="spacingAndGlyphs">Cas9</text>
<path d="M1172.5 827H1226M1199.3 800.2V853.8" stroke="#f0577f" stroke-width="18.5" stroke-linecap="round" fill="none"/>
<path d="M1337.5 711H1388.8Q1393.2 711 1393.2 715.4V719.2Q1393.2 723.6 1388.8 723.6H1383.3V782.3L1428 876Q1436 897.7 1414 897.7H1312.5Q1290.5 897.7 1298.4 876L1343 782.3V723.6H1337.5Q1333.1 723.6 1333.1 719.2V715.4Q1333.1 711 1337.5 711Z" fill="#27a7df"/>
<path d="M1330 822H1396.2L1420.5 874Q1426 890 1411 890H1315Q1300.5 890 1306 874Z" fill="#92278f"/>
<g transform="translate(1315.8 879.3) scale(0.262) translate(-519.5 -902)"><g transform="translate(0 0) scale(1.0)" fill="none" stroke-linecap="round"><path d="M519.5 902H640Q656.8 902 656.8 885V713A20.4 20.4 0 0 1 697.6 713V806Q697.6 827 718 827H754.5" stroke="#f29222" stroke-width="5.0"/><g stroke="#fdb913" stroke-width="4.1"><path d="M661 722H673.5M681 722H693.5"/><path d="M661 737.6H673.5M681 737.6H693.5"/><path d="M661 753.1H673.5M681 753.1H693.5"/><path d="M661 768.9H673.5M681 768.9H693.5"/><path d="M661 784.4H673.5M681 784.4H693.5"/><path d="M661 799.6H673.5M681 799.6H693.5"/><path d="M525.6 906V918.5"/><path d="M541.1 906V918.5"/><path d="M556.6 906V918.5"/><path d="M571.9 906V918.5"/><path d="M587.4 906V918.5"/><path d="M602.9 906V918.5"/><path d="M618.7 906V918.5"/><path d="M634.2 906V918.5"/></g></g></g><defs><linearGradient id="mc9" x1="0" y1="0" x2="0" y2="1"><stop offset="0" stop-color="#ffffff"/><stop offset="1" stop-color="#dcdcdc"/></linearGradient></defs><path d="M1374.3 871.4H1387.3Q1390.3 871.4 1390.3 868.4V860.5Q1390.3 857.5 1393.3 857.5H1400Q1403 857.5 1403 860.5V868.4Q1403 871.4 1406 871.4H1406Q1409 871.4 1409 874.4V882.3Q1409 885.3 1406 885.3H1374.3Q1371.3 885.3 1371.3 882.3V874.4Q1371.3 871.4 1374.3 871.4Z" fill="url(#mc9)"/>
<path d="M1500.5 793.7L1572 782.3" stroke="#f0577f" stroke-width="18.4" stroke-linecap="round" fill="none"/><path d="M1589.8 779.4L1574.8 799.8L1569.2 764.8Z" fill="#f0577f" stroke="#f0577f" stroke-width="18.4" stroke-linejoin="round"/>
<g transform="translate(1697.9 811.6) rotate(34)"><path d="M-2.2 -147H2.2V-189.6L-1.6 -199Z" fill="#4d4d4f"/><ellipse cx="0" cy="56" rx="24.5" ry="6.1" fill="#2a94d6"/><ellipse cx="0" cy="53" rx="24.5" ry="5.6" fill="#1c75bc"/><path d="M-8.1 0H8.1V51Q0 54.5 -8.1 51Z" fill="#c9e6f6"/><path d="M-22 -84H22V0Q0 5.9 -22 0Z" fill="#8ec3e0" opacity="0.88"/><path d="M-9.1 -84H9.1V3H-9.1Z" fill="#6ecbf3"/><ellipse cx="0" cy="1" rx="40.5" ry="7.3" fill="#3aa7d8" opacity="0.9"/><ellipse cx="0" cy="-1" rx="40.5" ry="6.8" fill="#62c0e6" opacity="0.85"/><path d="M-22 -5.9Q0 -0.9 22 -5.9V-12.2H-22Z" fill="#8ec3e0" opacity="0.9"/><path d="M-9.1 -12.2H9.1V-3.2Q0 -2 -9.1 -3.2Z" fill="#6ecbf3"/><path d="M-22.5 -93H22.5V-84Q0 -79 -22.5 -84Z" fill="#fff"/><path d="M-22.5 -137H22.5V-93Q0 -88 -22.5 -93Z" fill="#8f3f9b"/><ellipse cx="0" cy="-137" rx="22.5" ry="5" fill="#5e4aa0"/><rect x="-5" y="-148" width="9.9" height="11" fill="#a7a9ac"/></g>
<text x="267" y="899.4" text-anchor="middle" font-size="28" letter-spacing="1.25" fill="#000" font-weight="normal" stroke="#000" stroke-width="0.9">DNA Double Helix</text>
<text x="267" y="928.2" text-anchor="middle" font-size="28" letter-spacing="1.25" fill="#000" font-weight="normal" stroke="#000" stroke-width="0.9">With Mutation</text>
<text x="627" y="948.5" text-anchor="middle" font-size="28" letter-spacing="1.25" fill="#000" font-weight="normal" stroke="#000" stroke-width="0.9">Guide RNA is Created that</text>
<text x="627" y="978" text-anchor="middle" font-size="28" letter-spacing="1.25" fill="#000" font-weight="normal" stroke="#000" stroke-width="0.9">Matches the Mutated DNA</text>
<text x="1014" y="966.3" text-anchor="middle" font-size="28" letter-spacing="1.25" fill="#000" font-weight="normal" stroke="#000" stroke-width="0.9">Cas9, AKA Molecular</text>
<text x="1014" y="995.7" text-anchor="middle" font-size="28" letter-spacing="1.25" fill="#000" font-weight="normal" stroke="#000" stroke-width="0.9">Scissors</text>
<text x="1359.4" y="948.3" text-anchor="middle" font-size="28" letter-spacing="1.25" fill="#000" font-weight="normal" stroke="#000" stroke-width="0.9">Cas9 is Added to</text>
<text x="1359.4" y="977.7" text-anchor="middle" font-size="28" letter-spacing="1.25" fill="#000" font-weight="normal" stroke="#000" stroke-width="0.9">Guide RNA Mix</text>
<text x="1740.3" y="899.2" text-anchor="middle" font-size="28" letter-spacing="1.25" fill="#000" font-weight="normal" stroke="#000" stroke-width="0.9">Cells are Injected with</text>
<text x="1740.3" y="928.8" text-anchor="middle" font-size="28" letter-spacing="1.25" fill="#000" font-weight="normal" stroke="#000" stroke-width="0.9">Guide RNA + Cas9 Mix</text>
<circle cx="273.2" cy="970.3" r="29.6" fill="#8f3f9b"/><text x="273.2" y="979.3" text-anchor="middle" style="font-family:'DejaVu Sans', 'Liberation Sans', sans-serif" font-weight="bold" font-size="25" fill="#fff">1</text>
<circle cx="637" cy="1018" r="29.6" fill="#8f3f9b"/><text x="637" y="1027" text-anchor="middle" style="font-family:'DejaVu Sans', 'Liberation Sans', sans-serif" font-weight="bold" font-size="25" fill="#fff">2</text>
<circle cx="999.2" cy="1041.2" r="29.6" fill="#8f3f9b"/><text x="999.2" y="1050.2" text-anchor="middle" style="font-family:'DejaVu Sans', 'Liberation Sans', sans-serif" font-weight="bold" font-size="25" fill="#fff">3</text>
<circle cx="1363.5" cy="1018.2" r="29.6" fill="#8f3f9b"/><text x="1363.5" y="1027.2" text-anchor="middle" style="font-family:'DejaVu Sans', 'Liberation Sans', sans-serif" font-weight="bold" font-size="25" fill="#fff">4</text>
<circle cx="1727" cy="970.6" r="29.6" fill="#8f3f9b"/><text x="1727" y="979.6" text-anchor="middle" style="font-family:'DejaVu Sans', 'Liberation Sans', sans-serif" font-weight="bold" font-size="25" fill="#fff">5</text>
<!-- complexp -->
<defs><linearGradient id="bigc9" x1="0" y1="1075" x2="0" y2="1668" gradientUnits="userSpaceOnUse">
<stop offset="0" stop-color="#fcfcfc"/><stop offset="0.5" stop-color="#f2f2f3"/><stop offset="1" stop-color="#e2e2e3"/></linearGradient>
</defs>
<path d="M833.8 1437A78 73 0 0 1 911.8 1364H1171A66 61 0 0 0 1237 1303V1142.5A64 68 0 0 1 1301 1074.5H1454.5A64 68 0 0 1 1518.5 1142.5V1303A66 61 0 0 0 1584.5 1364H1589A78 73 0 0 1 1667 1437V1597A72 70 0 0 1 1595 1667H905.8A72 70 0 0 1 833.8 1597Z" fill="url(#bigc9)"/>
<path d="M833.8 1437A78 73 0 0 1 911.8 1364H1171A66 61 0 0 0 1237 1303V1142.5A64 68 0 0 1 1301 1074.5H1454.5A64 68 0 0 1 1518.5 1142.5V1303A66 61 0 0 0 1584.5 1364H1589A78 73 0 0 1 1667 1437" fill="none" stroke="#808080" stroke-width="6.2" stroke-linecap="round"/>
<path d="M833.8 1597A72 70 0 0 0 905.8 1667H1595A72 70 0 0 0 1667 1597" fill="none" stroke="#808080" stroke-width="6.2" stroke-linecap="round"/>
<rect x="914.3" y="1339.2" width="101" height="49" rx="8.5" fill="#fff" stroke="#808080" stroke-width="5.7"/>
<text x="964.6" y="1374.8" text-anchor="middle" font-weight="bold" font-size="33" fill="#2b2b2b" stroke="#2b2b2b" stroke-width="0.7" textLength="75" lengthAdjust="spacingAndGlyphs">Cas9</text>
<path d="M814.4 1481V1517.6" stroke="#b3268f" stroke-width="5.8" fill="none"/><path d="M814.4 1520.8V1557" stroke="#8e3f9b" stroke-width="5.8" fill="none"/><path d="M814.4 1517.1V1521.3" stroke="#8e3f9b" stroke-width="2.4" fill="none"/>
<path d="M1787.6 1481V1517.6" stroke="#b3268f" stroke-width="5.8" fill="none"/><path d="M1787.6 1520.8V1557" stroke="#8e3f9b" stroke-width="5.8" fill="none"/><path d="M1787.6 1517.1V1521.3" stroke="#8e3f9b" stroke-width="2.4" fill="none"/>
<path d="M841.7 1496V1517.6" stroke="#b3268f" stroke-width="5.8" fill="none"/><path d="M841.7 1520.8V1542.5" stroke="#8e3f9b" stroke-width="5.8" fill="none"/><path d="M841.7 1517.1V1521.3" stroke="#8e3f9b" stroke-width="2.4" fill="none"/>
<path d="M1760.3 1496V1517.6" stroke="#b3268f" stroke-width="5.8" fill="none"/><path d="M1760.3 1520.8V1542.5" stroke="#8e3f9b" stroke-width="5.8" fill="none"/><path d="M1760.3 1517.1V1521.3" stroke="#8e3f9b" stroke-width="2.4" fill="none"/>
<path d="M884.1 1496V1517.6" stroke="#8e3f9b" stroke-width="5.8" fill="none"/><path d="M884.1 1520.8V1542.5" stroke="#b3268f" stroke-width="5.8" fill="none"/><path d="M884.1 1517.1V1521.3" stroke="#b3268f" stroke-width="2.4" fill="none"/>
<path d="M1717.9 1496V1517.6" stroke="#8e3f9b" stroke-width="5.8" fill="none"/><path d="M1717.9 1520.8V1542.5" stroke="#b3268f" stroke-width="5.8" fill="none"/><path d="M1717.9 1517.1V1521.3" stroke="#b3268f" stroke-width="2.4" fill="none"/>
<path d="M910.9 1480V1517.6" stroke="#8e3f9b" stroke-width="5.8" fill="none"/><path d="M910.9 1520.8V1558.5" stroke="#b3268f" stroke-width="5.8" fill="none"/><path d="M910.9 1517.1V1521.3" stroke="#b3268f" stroke-width="2.4" fill="none"/>
<path d="M1691.1 1480V1517.6" stroke="#8e3f9b" stroke-width="5.8" fill="none"/><path d="M1691.1 1520.8V1558.5" stroke="#b3268f" stroke-width="5.8" fill="none"/><path d="M1691.1 1517.1V1521.3" stroke="#b3268f" stroke-width="2.4" fill="none"/>
<path d="M938.5 1473.5V1517.6" stroke="#8e3f9b" stroke-width="5.8" fill="none"/><path d="M938.5 1520.8V1565.5" stroke="#b3268f" stroke-width="5.8" fill="none"/><path d="M938.5 1517.1V1521.3" stroke="#b3268f" stroke-width="2.4" fill="none"/>
<path d="M1663.5 1473.5V1517.6" stroke="#8e3f9b" stroke-width="5.8" fill="none"/><path d="M1663.5 1520.8V1565.5" stroke="#b3268f" stroke-width="5.8" fill="none"/><path d="M1663.5 1517.1V1521.3" stroke="#b3268f" stroke-width="2.4" fill="none"/>
<path d="M964.7 1480V1517.6" stroke="#8e3f9b" stroke-width="5.8" fill="none"/><path d="M964.7 1520.8V1558.5" stroke="#b3268f" stroke-width="5.8" fill="none"/><path d="M964.7 1517.1V1521.3" stroke="#b3268f" stroke-width="2.4" fill="none"/>
<path d="M1637.3 1480V1517.6" stroke="#8e3f9b" stroke-width="5.8" fill="none"/><path d="M1637.3 1520.8V1558.5" stroke="#b3268f" stroke-width="5.8" fill="none"/><path d="M1637.3 1517.1V1521.3" stroke="#b3268f" stroke-width="2.4" fill="none"/>
<path d="M991.9 1496V1517.6" stroke="#8e3f9b" stroke-width="5.8" fill="none"/><path d="M991.9 1520.8V1542.5" stroke="#b3268f" stroke-width="5.8" fill="none"/><path d="M991.9 1517.1V1521.3" stroke="#b3268f" stroke-width="2.4" fill="none"/>
<path d="M1610.1 1496V1517.6" stroke="#8e3f9b" stroke-width="5.8" fill="none"/><path d="M1610.1 1520.8V1542.5" stroke="#b3268f" stroke-width="5.8" fill="none"/><path d="M1610.1 1517.1V1521.3" stroke="#b3268f" stroke-width="2.4" fill="none"/>
<path d="M1034.8 1491V1514.7" stroke="#b3268f" stroke-width="6.2" stroke-linecap="round" fill="none"/>
<path d="M1034.8 1526.7V1548" stroke="#8e3f9b" stroke-width="6.2" stroke-linecap="round" fill="none"/>
<path d="M1567.2 1491V1514.7" stroke="#b3268f" stroke-width="6.2" stroke-linecap="round" fill="none"/>
<path d="M1567.2 1526.7V1548" stroke="#8e3f9b" stroke-width="6.2" stroke-linecap="round" fill="none"/>
<path d="M1061.1 1466V1490.8" stroke="#b3268f" stroke-width="6.2" stroke-linecap="round" fill="none"/>
<path d="M1061.1 1548.5V1573" stroke="#8e3f9b" stroke-width="6.2" stroke-linecap="round" fill="none"/>
<path d="M1540.9 1466V1490.8" stroke="#b3268f" stroke-width="6.2" stroke-linecap="round" fill="none"/>
<path d="M1540.9 1548.5V1573" stroke="#8e3f9b" stroke-width="6.2" stroke-linecap="round" fill="none"/>
<path d="M1087.5 1455V1480.5M1114.2 1455V1480.5M1140.9 1455V1480.5M1167.6 1455V1480.5M1194.3 1455V1480.5M1301.1 1455V1480.5M1327.8 1455V1480.5M1434.6 1455V1480.5M1461.3 1455V1480.5M1488 1455V1480.5M1514.7 1455V1480.5" stroke="#b3268f" stroke-width="6.2" stroke-linecap="round" fill="none"/>
<path d="M1087.5 1559V1584M1114.2 1559V1584M1140.9 1559V1584M1167.6 1559V1584M1194.3 1559V1584M1301.1 1559V1584M1327.8 1559V1584M1434.6 1559V1584M1461.3 1559V1584M1488 1559V1584M1514.7 1559V1584" stroke="#8e3f9b" stroke-width="6.2" stroke-linecap="round" fill="none"/>
<path d="M1221 1455V1480.5M1247.7 1455V1480.5M1274.4 1455V1480.5" stroke="#f58ba7" stroke-width="6.2" stroke-linecap="round" fill="none"/>
<path d="M1221 1559V1584M1247.7 1559V1584M1274.4 1559V1584" stroke="#f58ba7" stroke-width="6.2" stroke-linecap="round" fill="none"/>
<path d="M1354.5 1455V1480.5M1381.2 1455V1480.5M1407.9 1455V1480.5" stroke="#27aae1" stroke-width="6.2" stroke-linecap="round" fill="none"/>
<path d="M1354.5 1559V1584M1381.2 1559V1584M1407.9 1559V1584" stroke="#27aae1" stroke-width="6.2" stroke-linecap="round" fill="none"/>
<path d="M1114.2 1524V1547.5M1140.9 1524V1547.5M1167.6 1524V1547.5M1194.3 1524V1547.5M1221 1524V1547.5M1247.7 1524V1547.5M1274.4 1524V1547.5M1301.1 1524V1547.5" stroke="#fdb913" stroke-width="6.2" stroke-linecap="round" fill="none"/>
<path d="M1346 1207H1370.5M1380 1207H1405M1346 1234H1370.5M1380 1234H1405M1346 1260.7H1370.5M1380 1260.7H1405M1346 1287.8H1370.5M1380 1287.8H1405M1346 1314.5H1370.5M1380 1314.5H1405M1346 1341.5H1370.5M1380 1341.5H1405" stroke="#fdb913" stroke-width="5" stroke-linecap="round" fill="none"/>
<path d="M1101.6 1519.3H1313Q1341 1519.3 1341 1491V1193A34.3 34.3 0 0 1 1409.6 1193V1360Q1409.6 1389.2 1438 1389.2H1508.5" fill="none" stroke="#f7941e" stroke-width="7" stroke-linecap="round"/>
<path d="M787.2 1566C812 1566 836 1548.6 862.3 1519.1C884 1495.3 908 1472.8 938.5 1472.8C969 1472.8 993 1495.3 1017 1519.1C1032 1542.5 1058 1587.8 1098 1587.8H1504C1544 1587.8 1570 1542.5 1585 1519.1C1609 1495.3 1633 1472.8 1663.5 1472.8C1694 1472.8 1718 1495.3 1739.7 1519.1C1766 1548.6 1790 1566 1814.8 1566" fill="none" stroke="#8e3f9b" stroke-width="7.0" stroke-linecap="round"/>
<path d="M787.2 1472.6C812 1472.6 836 1489.8 862.3 1519.1C884 1543.3 908 1566 938.5 1566C969 1566 993 1543.3 1017 1519.1C1032 1496 1058 1451.3 1098 1451.3H1504C1544 1451.3 1570 1496 1585 1519.1C1609 1543.3 1633 1566 1663.5 1566C1694 1566 1718 1543.3 1739.7 1519.1C1766 1489.8 1790 1472.6 1814.8 1472.6" fill="none" stroke="#b3268f" stroke-width="7.0" stroke-linecap="round"/>
<path d="M1341 1451.3H1420.5M1341 1587.8H1420.5" stroke="#27aae1" stroke-width="7.0" fill="none"/>
<path d="M1341 1470V1440" stroke="#f7941e" stroke-width="7" fill="none"/>
<text x="1086.5" y="1530" text-anchor="middle" font-weight="bold" font-size="21" fill="#f7941e" style="font-family:'DejaVu Sans',sans-serif">5</text>
<text x="1522.5" y="1397" text-anchor="middle" font-weight="bold" font-size="21" fill="#f7941e" style="font-family:'DejaVu Sans',sans-serif">3</text>
<path d="M1208.2 1414V1622" stroke="#4d4d4f" stroke-width="1.4" stroke-dasharray="5 1.6" fill="none"/>
<g transform="translate(1208.2 1380.8)"><circle cx="-13" cy="8.3" r="5.8" fill="none" stroke="#4d4d4f" stroke-width="4"/><circle cx="13" cy="8.3" r="5.8" fill="none" stroke="#4d4d4f" stroke-width="4"/><path d="M-9.5 14.5L-6 12L3.3 27.5L10.2 54.5L8.3 55.2L-3 33Z" fill="#4d4d4f"/><path d="M9.5 14.5L6 12L-3.3 27.5L-10.2 54.5L-8.3 55.2L3 33Z" fill="#4d4d4f"/><circle cx="0" cy="27.5" r="1.3" fill="#fff"/></g>
<path d="M1288.2 1414V1622" stroke="#4d4d4f" stroke-width="1.4" stroke-dasharray="5 1.6" fill="none"/>
<g transform="translate(1288.2 1380.8)"><circle cx="-13" cy="8.3" r="5.8" fill="none" stroke="#4d4d4f" stroke-width="4"/><circle cx="13" cy="8.3" r="5.8" fill="none" stroke="#4d4d4f" stroke-width="4"/><path d="M-9.5 14.5L-6 12L3.3 27.5L10.2 54.5L8.3 55.2L-3 33Z" fill="#4d4d4f"/><path d="M9.5 14.5L6 12L-3.3 27.5L-10.2 54.5L-8.3 55.2L3 33Z" fill="#4d4d4f"/><circle cx="0" cy="27.5" r="1.3" fill="#fff"/></g>
<text x="733.5" y="1532" text-anchor="middle" style="font-family:'DejaVu Serif', 'Liberation Serif', serif" font-weight="bold" font-size="38.5" fill="#8088c8" stroke="#8088c8" stroke-width="1.6" textLength="98" lengthAdjust="spacingAndGlyphs">DNA</text>
<text x="1878" y="1532" text-anchor="middle" style="font-family:'DejaVu Serif', 'Liberation Serif', serif" font-weight="bold" font-size="38.5" fill="#8088c8" stroke="#8088c8" stroke-width="1.6" textLength="98" lengthAdjust="spacingAndGlyphs">DNA</text>
<text x="774.8" y="1481.5" text-anchor="middle" font-weight="bold" font-size="21" fill="#8088c8" style="font-family:'DejaVu Sans',sans-serif">5</text>
<text x="774.8" y="1574" text-anchor="middle" font-weight="bold" font-size="21" fill="#8088c8" style="font-family:'DejaVu Sans',sans-serif">3</text>
<text x="1835.5" y="1481.5" text-anchor="middle" font-weight="bold" font-size="21" fill="#8088c8" style="font-family:'DejaVu Sans',sans-serif">3</text>
<text x="1835.5" y="1574" text-anchor="middle" font-weight="bold" font-size="21" fill="#8088c8" style="font-family:'DejaVu Sans',sans-serif">5</text>
<circle cx="837.9" cy="1258.8" r="29.6" fill="#8f3f9b"/><text x="837.9" y="1267.8" text-anchor="middle" style="font-family:'DejaVu Sans', 'Liberation Sans', sans-serif" font-weight="bold" font-size="25" fill="#fff">7</text>
<text x="876.5" y="1253.9" text-anchor="start" font-size="28" letter-spacing="1.25" fill="#000" font-weight="normal" stroke="#000" stroke-width="0.9">Cas9 Cuts Out the</text>
<text x="876.5" y="1286.3" text-anchor="start" font-size="28" letter-spacing="1.25" fill="#000" font-weight="normal" stroke="#000" stroke-width="0.9">Mutated Sequence</text>
<path d="M1147.3 1261.5L1248.3 1384.6" fill="none" stroke="#0b3a5e" stroke-width="2.4"/><circle cx="1147.3" cy="1261.5" r="4.4" fill="#0e5284"/>
<circle cx="1915.5" cy="1213.9" r="29.6" fill="#8f3f9b"/><text x="1915.5" y="1222.9" text-anchor="middle" style="font-family:'DejaVu Sans', 'Liberation Sans', sans-serif" font-weight="bold" font-size="25" fill="#fff">6</text>
<text x="1588.5" y="1212" text-anchor="start" font-size="28" letter-spacing="1.25" fill="#000" font-weight="normal" stroke="#000" stroke-width="0.9">Guide RNA Identifies</text>
<text x="1613.3" y="1241.7" text-anchor="start" font-size="28" letter-spacing="1.25" fill="#000" font-weight="normal" stroke="#000" stroke-width="0.9">the Mutated DNA</text>
<path d="M1576.3 1205.1L1425.8 1384.6" fill="none" stroke="#0b3a5e" stroke-width="2.4"/><circle cx="1576.3" cy="1205.1" r="4.4" fill="#0e5284"/>
<text x="1610.6" y="1300.8" text-anchor="start" font-size="28" letter-spacing="1.25" fill="#000" font-weight="normal" stroke="#000" stroke-width="0.9">Cas9 Requires a Simple</text>
<text x="1610.6" y="1330.1" text-anchor="start" font-size="28" letter-spacing="1.25" fill="#000" font-weight="normal" stroke="#000" stroke-width="0.9">PAM Sequence to Actually</text>
<text x="1610.6" y="1359.5" text-anchor="start" font-size="28" letter-spacing="1.25" fill="#000" font-weight="normal" stroke="#000" stroke-width="0.9">BInd to Target DNA</text>
<path d="M1595.4 1340.4L1408.6 1560.7" fill="none" stroke="#0b3a5e" stroke-width="2.4"/><circle cx="1595.4" cy="1340.4" r="4.4" fill="#0e5284"/>
<path d="M1731.3 1025.5C1731 1065 1722 1110 1696 1152" fill="none" stroke="#f0577f" stroke-width="18.4" stroke-linecap="round"/>
<path d="M1678.5 1145.8L1708.3 1162.7L1683.5 1169.6Z" fill="#f0577f" stroke="#f0577f" stroke-width="18" stroke-linejoin="round"/>
<!-- bottom -->
<circle cx="821.4" cy="1731.9" r="29.6" fill="#8f3f9b"/><text x="821.4" y="1740.9" text-anchor="middle" style="font-family:'DejaVu Sans', 'Liberation Sans', sans-serif" font-weight="bold" font-size="25" fill="#fff">8</text>
<text x="1000" y="1728.4" text-anchor="middle" font-size="28" letter-spacing="1.25" fill="#000" font-weight="normal" stroke="#000" stroke-width="0.9">Double Strand</text>
<text x="1000" y="1757.7" text-anchor="middle" font-size="28" letter-spacing="1.25" fill="#000" font-weight="normal" stroke="#000" stroke-width="0.9">Break in Target DNA</text>
<path d="M1105.4 1718.4L1183.8 1718.4L1258.7 1807.7" fill="none" stroke="#0b3a5e" stroke-width="2.4"/><circle cx="1105.4" cy="1718.4" r="4.4" fill="#0e5284"/>
<path d="M1301.6 1694.3L1301.6 1739.6" stroke="#f0577f" stroke-width="18.4" stroke-linecap="round" fill="none"/><path d="M1301.6 1757.6L1283.8 1739.6L1319.3 1739.6Z" fill="#f0577f" stroke="#f0577f" stroke-width="18.4" stroke-linejoin="round"/>
<path d="M1088 1787.2V1817.7" stroke="#b3268f" stroke-width="6.0" stroke-linecap="round" fill="none"/><path d="M1088 1832V1862.5" stroke="#8e3f9b" stroke-width="6.0" stroke-linecap="round" fill="none"/><path d="M1114.4 1787.2V1817.7" stroke="#b3268f" stroke-width="6.0" stroke-linecap="round" fill="none"/><path d="M1114.4 1832V1862.5" stroke="#8e3f9b" stroke-width="6.0" stroke-linecap="round" fill="none"/><path d="M1140.8 1787.2V1817.7" stroke="#b3268f" stroke-width="6.0" stroke-linecap="round" fill="none"/><path d="M1140.8 1832V1862.5" stroke="#8e3f9b" stroke-width="6.0" stroke-linecap="round" fill="none"/><path d="M1167.6 1787.2V1817.7" stroke="#b3268f" stroke-width="6.0" stroke-linecap="round" fill="none"/><path d="M1167.6 1832V1862.5" stroke="#8e3f9b" stroke-width="6.0" stroke-linecap="round" fill="none"/><path d="M1194.4 1787.2V1817.7" stroke="#b3268f" stroke-width="6.0" stroke-linecap="round" fill="none"/><path d="M1194.4 1832V1862.5" stroke="#8e3f9b" stroke-width="6.0" stroke-linecap="round" fill="none"/><path d="M1077.5 1787.2H1204.5" stroke="#b3268f" stroke-width="7.0" stroke-linecap="round" fill="none"/><path d="M1077.5 1862.5H1204.5" stroke="#8e3f9b" stroke-width="7.0" stroke-linecap="round" fill="none"/>
<path d="M1301 1787.2V1817.7" stroke="#b3268f" stroke-width="6.0" stroke-linecap="round" fill="none"/><path d="M1301 1832V1862.5" stroke="#8e3f9b" stroke-width="6.0" stroke-linecap="round" fill="none"/><path d="M1327.8 1787.2V1817.7" stroke="#b3268f" stroke-width="6.0" stroke-linecap="round" fill="none"/><path d="M1327.8 1832V1862.5" stroke="#8e3f9b" stroke-width="6.0" stroke-linecap="round" fill="none"/><path d="M1354.6 1787.2V1817.7" stroke="#27aae1" stroke-width="6.0" stroke-linecap="round" fill="none"/><path d="M1354.6 1832V1862.5" stroke="#27aae1" stroke-width="6.0" stroke-linecap="round" fill="none"/><path d="M1381.6 1787.2V1817.7" stroke="#27aae1" stroke-width="6.0" stroke-linecap="round" fill="none"/><path d="M1381.6 1832V1862.5" stroke="#27aae1" stroke-width="6.0" stroke-linecap="round" fill="none"/><path d="M1408.6 1787.2V1817.7" stroke="#27aae1" stroke-width="6.0" stroke-linecap="round" fill="none"/><path d="M1408.6 1832V1862.5" stroke="#27aae1" stroke-width="6.0" stroke-linecap="round" fill="none"/><path d="M1435.2 1787.2V1817.7" stroke="#b3268f" stroke-width="6.0" stroke-linecap="round" fill="none"/><path d="M1435.2 1832V1862.5" stroke="#8e3f9b" stroke-width="6.0" stroke-linecap="round" fill="none"/><path d="M1461.8 1787.2V1817.7" stroke="#b3268f" stroke-width="6.0" stroke-linecap="round" fill="none"/><path d="M1461.8 1832V1862.5" stroke="#8e3f9b" stroke-width="6.0" stroke-linecap="round" fill="none"/><path d="M1488.6 1787.2V1817.7" stroke="#b3268f" stroke-width="6.0" stroke-linecap="round" fill="none"/><path d="M1488.6 1832V1862.5" stroke="#8e3f9b" stroke-width="6.0" stroke-linecap="round" fill="none"/><path d="M1515.6 1787.2V1817.7" stroke="#b3268f" stroke-width="6.0" stroke-linecap="round" fill="none"/><path d="M1515.6 1832V1862.5" stroke="#8e3f9b" stroke-width="6.0" stroke-linecap="round" fill="none"/><path d="M1292 1787.2H1526.3" stroke="#b3268f" stroke-width="7.0" stroke-linecap="round" fill="none"/><path d="M1292 1862.5H1526.3" stroke="#8e3f9b" stroke-width="7.0" stroke-linecap="round" fill="none"/><path d="M1341.5 1787.2H1422M1341.5 1862.5H1422" stroke="#27aae1" stroke-width="7.0" fill="none"/>
<path d="M1226.8 1890.4L1203.3 1958.3" stroke="#f0577f" stroke-width="18.2" stroke-linecap="round" fill="none"/><path d="M1197.5 1975L1186.1 1952.4L1220.5 1964.3Z" fill="#f0577f" stroke="#f0577f" stroke-width="17.2" stroke-linejoin="round"/>
<path d="M1376.2 1890.4L1399.7 1958.3" stroke="#f0577f" stroke-width="18.2" stroke-linecap="round" fill="none"/><path d="M1405.5 1975L1382.5 1964.3L1416.9 1952.4Z" fill="#f0577f" stroke="#f0577f" stroke-width="17.2" stroke-linejoin="round"/>
<circle cx="1135.9" cy="1958.4" r="29.6" fill="#8f3f9b"/><text x="1135.9" y="1967.4" text-anchor="middle" style="font-family:'DejaVu Serif', 'Liberation Serif', serif" font-weight="bold" font-size="25" fill="#fff">9A</text>
<circle cx="1467" cy="1958.4" r="29.6" fill="#8f3f9b"/><text x="1467" y="1967.4" text-anchor="middle" style="font-family:'DejaVu Serif', 'Liberation Serif', serif" font-weight="bold" font-size="25" fill="#fff">9B</text>
<path d="M764.8 2003.7V2034.2" stroke="#b3268f" stroke-width="6.0" stroke-linecap="round" fill="none"/><path d="M764.8 2048.5V2079" stroke="#8e3f9b" stroke-width="6.0" stroke-linecap="round" fill="none"/><path d="M791.3 2003.7V2034.2" stroke="#b3268f" stroke-width="6.0" stroke-linecap="round" fill="none"/><path d="M791.3 2048.5V2079" stroke="#8e3f9b" stroke-width="6.0" stroke-linecap="round" fill="none"/><path d="M818.9 2003.7V2034.2" stroke="#b3268f" stroke-width="6.0" stroke-linecap="round" fill="none"/><path d="M818.9 2048.5V2079" stroke="#8e3f9b" stroke-width="6.0" stroke-linecap="round" fill="none"/><path d="M846 2003.7V2034.2" stroke="#b3268f" stroke-width="6.0" stroke-linecap="round" fill="none"/><path d="M846 2048.5V2079" stroke="#8e3f9b" stroke-width="6.0" stroke-linecap="round" fill="none"/><path d="M872.6 2003.7V2034.2" stroke="#b3268f" stroke-width="6.0" stroke-linecap="round" fill="none"/><path d="M872.6 2048.5V2079" stroke="#8e3f9b" stroke-width="6.0" stroke-linecap="round" fill="none"/><path d="M754 2003.7H885.4" stroke="#b3268f" stroke-width="7.0" stroke-linecap="butt" fill="none"/><path d="M754 2079H885.4" stroke="#8e3f9b" stroke-width="7.0" stroke-linecap="butt" fill="none"/>
<path d="M754 2003.7h1M754 2079h1" stroke-linecap="round" stroke-width="7" stroke="#b3268f"/>
<path d="M898.5 1978V2008.5" stroke="#189283" stroke-width="6.0" stroke-linecap="round" fill="none"/><path d="M898.5 2023.7V2054.2" stroke="#189283" stroke-width="6.0" stroke-linecap="round" fill="none"/><path d="M924.9 1978V2008.5" stroke="#189283" stroke-width="6.0" stroke-linecap="round" fill="none"/><path d="M924.9 2023.7V2054.2" stroke="#189283" stroke-width="6.0" stroke-linecap="round" fill="none"/><path d="M951.7 1978V2008.5" stroke="#189283" stroke-width="6.0" stroke-linecap="round" fill="none"/><path d="M951.7 2023.7V2054.2" stroke="#189283" stroke-width="6.0" stroke-linecap="round" fill="none"/><path d="M885.4 1978H965.2" stroke="#189283" stroke-width="7.0" stroke-linecap="butt" fill="none"/><path d="M885.4 2054.2H965.2" stroke="#189283" stroke-width="7.0" stroke-linecap="butt" fill="none"/>
<path d="M977.8 2003.7V2034.2" stroke="#b3268f" stroke-width="6.0" stroke-linecap="round" fill="none"/><path d="M977.8 2048.5V2079" stroke="#8e3f9b" stroke-width="6.0" stroke-linecap="round" fill="none"/><path d="M1004.4 2003.7V2034.2" stroke="#b3268f" stroke-width="6.0" stroke-linecap="round" fill="none"/><path d="M1004.4 2048.5V2079" stroke="#8e3f9b" stroke-width="6.0" stroke-linecap="round" fill="none"/><path d="M1031.4 2003.7V2034.2" stroke="#27aae1" stroke-width="6.0" stroke-linecap="round" fill="none"/><path d="M1031.4 2048.5V2079" stroke="#27aae1" stroke-width="6.0" stroke-linecap="round" fill="none"/><path d="M1058.4 2003.7V2034.2" stroke="#27aae1" stroke-width="6.0" stroke-linecap="round" fill="none"/><path d="M1058.4 2048.5V2079" stroke="#27aae1" stroke-width="6.0" stroke-linecap="round" fill="none"/><path d="M1085 2003.7V2034.2" stroke="#27aae1" stroke-width="6.0" stroke-linecap="round" fill="none"/><path d="M1085 2048.5V2079" stroke="#27aae1" stroke-width="6.0" stroke-linecap="round" fill="none"/><path d="M1112 2003.7V2034.2" stroke="#b3268f" stroke-width="6.0" stroke-linecap="round" fill="none"/><path d="M1112 2048.5V2079" stroke="#8e3f9b" stroke-width="6.0" stroke-linecap="round" fill="none"/><path d="M1139 2003.7V2034.2" stroke="#b3268f" stroke-width="6.0" stroke-linecap="round" fill="none"/><path d="M1139 2048.5V2079" stroke="#8e3f9b" stroke-width="6.0" stroke-linecap="round" fill="none"/><path d="M1165.5 2003.7V2034.2" stroke="#b3268f" stroke-width="6.0" stroke-linecap="round" fill="none"/><path d="M1165.5 2048.5V2079" stroke="#8e3f9b" stroke-width="6.0" stroke-linecap="round" fill="none"/><path d="M1192.5 2003.7V2034.2" stroke="#b3268f" stroke-width="6.0" stroke-linecap="round" fill="none"/><path d="M1192.5 2048.5V2079" stroke="#8e3f9b" stroke-width="6.0" stroke-linecap="round" fill="none"/><path d="M965.2 2003.7H1203" stroke="#b3268f" stroke-width="7.0" stroke-linecap="butt" fill="none"/><path d="M965.2 2079H1203" stroke="#8e3f9b" stroke-width="7.0" stroke-linecap="butt" fill="none"/><path d="M1018.3 2003.7H1098.9M1018.3 2079H1098.9" stroke="#27aae1" stroke-width="7.0" fill="none"/>
<path d="M1203 2003.7h0.1" stroke-linecap="round" stroke-width="7" stroke="#b3268f"/><path d="M1203 2079h0.1" stroke-linecap="round" stroke-width="7" stroke="#8e3f9b"/><path d="M754 2079h0.1" stroke-linecap="round" stroke-width="7" stroke="#8e3f9b"/>
<path d="M913.8 1904.8H936.8V1947H943L925.4 1967L907.8 1947H913.8Z" fill="#189283" stroke="#189283" stroke-width="2" stroke-linejoin="round"/>
<text x="814.5" y="1897" text-anchor="end" font-size="28" letter-spacing="1.25" fill="#000" font-weight="normal" stroke="#000" stroke-width="0.9">Faulty Gene Can Be</text>
<text x="814.5" y="1926.2" text-anchor="end" font-size="28" letter-spacing="1.25" fill="#000" font-weight="normal" stroke="#000" stroke-width="0.9">Replaced by Corrected</text>
<text x="814.5" y="1955.4" text-anchor="end" font-size="28" letter-spacing="1.25" fill="#000" font-weight="normal" stroke="#000" stroke-width="0.9">DNA or a NEW GENE</text>
<text x="814.5" y="1984.6" text-anchor="end" font-size="28" letter-spacing="1.25" fill="#000" font-weight="normal" stroke="#000" stroke-width="0.9">Altogether</text>
<path d="M819.3 1878.7L892 1968" fill="none" stroke="#0b3a5e" stroke-width="2.4"/><circle cx="819.3" cy="1878.7" r="4.4" fill="#0e5284"/>
<path d="M1410.4 2003.7V2034.2" stroke="#b3268f" stroke-width="6.0" stroke-linecap="round" fill="none"/><path d="M1410.4 2048.5V2079" stroke="#8e3f9b" stroke-width="6.0" stroke-linecap="round" fill="none"/><path d="M1437.4 2003.7V2034.2" stroke="#b3268f" stroke-width="6.0" stroke-linecap="round" fill="none"/><path d="M1437.4 2048.5V2079" stroke="#8e3f9b" stroke-width="6.0" stroke-linecap="round" fill="none"/><path d="M1464.4 2003.7V2034.2" stroke="#b3268f" stroke-width="6.0" stroke-linecap="round" fill="none"/><path d="M1464.4 2048.5V2079" stroke="#8e3f9b" stroke-width="6.0" stroke-linecap="round" fill="none"/><path d="M1491 2003.7V2034.2" stroke="#b3268f" stroke-width="6.0" stroke-linecap="round" fill="none"/><path d="M1491 2048.5V2079" stroke="#8e3f9b" stroke-width="6.0" stroke-linecap="round" fill="none"/><path d="M1518 2003.7V2034.2" stroke="#b3268f" stroke-width="6.0" stroke-linecap="round" fill="none"/><path d="M1518 2048.5V2079" stroke="#8e3f9b" stroke-width="6.0" stroke-linecap="round" fill="none"/><path d="M1544.6 2003.7V2034.2" stroke="#c9c9c9" stroke-width="6.0" stroke-linecap="round" fill="none"/><path d="M1544.6 2048.5V2079" stroke="#c9c9c9" stroke-width="6.0" stroke-linecap="round" fill="none"/><path d="M1571.3 2003.7V2034.2" stroke="#c9c9c9" stroke-width="6.0" stroke-linecap="round" fill="none"/><path d="M1571.3 2048.5V2079" stroke="#c9c9c9" stroke-width="6.0" stroke-linecap="round" fill="none"/><path d="M1597.9 2003.7V2034.2" stroke="#c9c9c9" stroke-width="6.0" stroke-linecap="round" fill="none"/><path d="M1597.9 2048.5V2079" stroke="#c9c9c9" stroke-width="6.0" stroke-linecap="round" fill="none"/><path d="M1624.7 2003.7V2034.2" stroke="#b3268f" stroke-width="6.0" stroke-linecap="round" fill="none"/><path d="M1624.7 2048.5V2079" stroke="#8e3f9b" stroke-width="6.0" stroke-linecap="round" fill="none"/><path d="M1651.7 2003.7V2034.2" stroke="#b3268f" stroke-width="6.0" stroke-linecap="round" fill="none"/><path d="M1651.7 2048.5V2079" stroke="#8e3f9b" stroke-width="6.0" stroke-linecap="round" fill="none"/><path d="M1678.4 2003.7V2034.2" stroke="#27aae1" stroke-width="6.0" stroke-linecap="round" fill="none"/><path d="M1678.4 2048.5V2079" stroke="#27aae1" stroke-width="6.0" stroke-linecap="round" fill="none"/><path d="M1705.3 2003.7V2034.2" stroke="#27aae1" stroke-width="6.0" stroke-linecap="round" fill="none"/><path d="M1705.3 2048.5V2079" stroke="#27aae1" stroke-width="6.0" stroke-linecap="round" fill="none"/><path d="M1732.2 2003.7V2034.2" stroke="#27aae1" stroke-width="6.0" stroke-linecap="round" fill="none"/><path d="M1732.2 2048.5V2079" stroke="#27aae1" stroke-width="6.0" stroke-linecap="round" fill="none"/><path d="M1758.9 2003.7V2034.2" stroke="#b3268f" stroke-width="6.0" stroke-linecap="round" fill="none"/><path d="M1758.9 2048.5V2079" stroke="#8e3f9b" stroke-width="6.0" stroke-linecap="round" fill="none"/><path d="M1785.8 2003.7V2034.2" stroke="#b3268f" stroke-width="6.0" stroke-linecap="round" fill="none"/><path d="M1785.8 2048.5V2079" stroke="#8e3f9b" stroke-width="6.0" stroke-linecap="round" fill="none"/><path d="M1812.7 2003.7V2034.2" stroke="#b3268f" stroke-width="6.0" stroke-linecap="round" fill="none"/><path d="M1812.7 2048.5V2079" stroke="#8e3f9b" stroke-width="6.0" stroke-linecap="round" fill="none"/><path d="M1839.4 2003.7V2034.2" stroke="#b3268f" stroke-width="6.0" stroke-linecap="round" fill="none"/><path d="M1839.4 2048.5V2079" stroke="#8e3f9b" stroke-width="6.0" stroke-linecap="round" fill="none"/><path d="M1400.4 2003.7H1849" stroke="#b3268f" stroke-width="7.0" stroke-linecap="round" fill="none"/><path d="M1400.4 2079H1849" stroke="#8e3f9b" stroke-width="7.0" stroke-linecap="round" fill="none"/><path d="M1531 2003.7H1611.6M1531 2079H1611.6" stroke="#c9c9c9" stroke-width="7.0" fill="none"/><path d="M1664 2003.7H1744.4M1664 2079H1744.4" stroke="#27aae1" stroke-width="7.0" fill="none"/>
<text x="1661.7" y="1897" text-anchor="start" font-size="28" letter-spacing="1.25" fill="#000" font-weight="normal" stroke="#000" stroke-width="0.9">The Cell’s Attempt to</text>
<text x="1661.7" y="1926.2" text-anchor="start" font-size="28" letter-spacing="1.25" fill="#000" font-weight="normal" stroke="#000" stroke-width="0.9">Repair the Break</text>
<text x="1661.7" y="1955.4" text-anchor="start" font-size="28" letter-spacing="1.25" fill="#000" font-weight="normal" stroke="#000" stroke-width="0.9">Effectively Silences</text>
<text x="1661.7" y="1984.6" text-anchor="start" font-size="28" letter-spacing="1.25" fill="#000" font-weight="normal" stroke="#000" stroke-width="0.9">theTargeted Gene</text>
<path d="M1644.3 1917.9L1570.2 2007.1" fill="none" stroke="#0b3a5e" stroke-width="2.4"/><circle cx="1644.3" cy="1917.9" r="4.4" fill="#0e5284"/>
<path d="M717.5 2042H421.3A88.5 88.5 0 0 1 332.8 1953.5V1943" fill="none" stroke="#189283" stroke-width="18" stroke-linecap="round"/>
<path d="M332.7 1926.3L314.8 1943.1H350.8Z" fill="#189283" stroke="#189283" stroke-width="18" stroke-linejoin="round"/>
<path d="M70.5 1842.8Q70.5 1866.8 94.5 1866.8H308Q332.3 1866.8 332.3 1891Q332.3 1866.8 356.5 1866.8H570.5Q594.5 1866.8 594.5 1842.8" fill="none" stroke="#189283" stroke-width="2.4" stroke-linecap="round"/>
<!-- tiles -->
<defs>
<linearGradient id="tileg" x1="0" y1="1" x2="1" y2="0"><stop offset="0" stop-color="#48b648"/><stop offset="0.45" stop-color="#2aa877"/><stop offset="1" stop-color="#169d90"/></linearGradient>
<linearGradient id="qg" x1="0" y1="1116" x2="0" y2="1231" gradientUnits="userSpaceOnUse"><stop offset="0" stop-color="#dc4690"/><stop offset="0.55" stop-color="#a32d95"/><stop offset="1" stop-color="#6f2c91"/></linearGradient>
</defs>
<rect x="116.6" y="1086.6" width="170.2" height="170.2" rx="19" fill="url(#tileg)"/>
<rect x="378.1" y="1086.6" width="170.2" height="170.2" rx="19" fill="url(#tileg)"/>
<rect x="116.6" y="1360.4" width="170.2" height="170.2" rx="19" fill="url(#tileg)"/>
<rect x="378.1" y="1360.4" width="170.2" height="170.2" rx="19" fill="url(#tileg)"/>
<rect x="116.6" y="1622.4" width="170.2" height="170.2" rx="19" fill="url(#tileg)"/>
<rect x="378.1" y="1622.4" width="170.2" height="170.2" rx="19" fill="url(#tileg)"/>
<g transform="translate(0 0)"><path d="M177.7 1147A24.6 24.6 0 1 1 219.7 1167.4C212.7 1174.4 203 1176 203 1184" fill="none" stroke="#fff" stroke-width="24.8" stroke-linecap="round"/><circle cx="203.1" cy="1216.6" r="16.6" fill="#fff"/><path d="M177.7 1147A24.6 24.6 0 1 1 219.7 1167.4C212.7 1174.4 203 1176 203 1184" fill="none" stroke="url(#qg)" stroke-width="19.6" stroke-linecap="round"/><circle cx="203.1" cy="1216.6" r="14" fill="url(#qg)"/></g>
<g><path d="M484 1194Q508 1188 518.5 1201Q526.5 1212 524.5 1225" fill="none" stroke="#fff" stroke-width="28.6" stroke-linecap="round"/><ellipse cx="451" cy="1192.5" rx="37" ry="25.5" transform="rotate(27 451 1192.5)" fill="#fff" stroke="#fff" stroke-width="6.6"/><path d="M464 1213Q488 1206 499 1219Q507 1231 506.5 1241.5" fill="none" stroke="#fff" stroke-width="28.6" stroke-linecap="round"/><path d="M468 1174Q483 1168 488 1149" fill="none" stroke="#fff" stroke-width="23.6" stroke-linecap="round"/><circle cx="410.8" cy="1143.5" r="7" fill="#fff" stroke="#fff" stroke-width="6.6"/><circle cx="443" cy="1138" r="30" fill="#fff" stroke="#fff" stroke-width="6.6"/><path d="M484 1194Q508 1188 518.5 1201Q526.5 1212 524.5 1225" fill="none" stroke="#f8ad8e" stroke-width="22" stroke-linecap="round"/><ellipse cx="451" cy="1192.5" rx="37" ry="25.5" transform="rotate(27 451 1192.5)" fill="#fbc3a7"/><path d="M464 1213Q488 1206 499 1219Q507 1231 506.5 1241.5" fill="none" stroke="#fbc3a7" stroke-width="22" stroke-linecap="round"/><path d="M468 1174Q483 1168 488 1149" fill="none" stroke="#fbc3a7" stroke-width="17" stroke-linecap="round"/><circle cx="410.8" cy="1143.5" r="7" fill="#fbc3a7"/><circle cx="443" cy="1138" r="30" fill="#fbc3a7"/><ellipse cx="444" cy="1184" rx="20" ry="13" transform="rotate(27 444 1184)" fill="#fddccb" opacity="0.6"/><path d="M440 1192Q456 1204 466 1197Q469 1191 461 1191" fill="none" stroke="#fddccb" stroke-width="7" stroke-linecap="round"/><path d="M478 1212Q492 1208 500 1218" fill="none" stroke="#fddccb" stroke-width="7" stroke-linecap="round" opacity="0.7"/><circle cx="437" cy="1128" r="17" fill="#fddccb" opacity="0.55"/><circle cx="434.7" cy="1138.6" r="4.6" fill="#1b4f7a"/><circle cx="459.6" cy="1139.6" r="4.6" fill="#1b4f7a"/><circle cx="435.9" cy="1137.3" r="1.6" fill="#fff"/><circle cx="460.8" cy="1138.3" r="1.6" fill="#fff"/><circle cx="431" cy="1150.5" r="5" fill="#f58fa0" opacity="0.5"/><circle cx="462.5" cy="1151" r="5" fill="#f58fa0" opacity="0.5"/><circle cx="446.5" cy="1147.5" r="2.8" fill="#f8ad8e"/><path d="M441.5 1155.5Q447 1160.5 453 1155.5" fill="none" stroke="#e8785f" stroke-width="1.7" stroke-linecap="round"/><path d="M436 1122.5Q452 1128 462 1118Q465 1107 450 1106.5Q438 1108 440 1115.5Q444 1122 452 1120Q458 1117 455 1112.5Q450 1109.5 446.5 1113.5" fill="none" stroke="#3b2314" stroke-width="2.8" stroke-linecap="round"/></g>
<g><g transform="translate(160 1432) rotate(25)"><ellipse cx="6" cy="-28" rx="17" ry="40" fill="#fff" stroke="#fff" stroke-width="6.6"/><path d="M-17 -36Q-24 16 -10 48Q0 54 6 48Q-2 16 -4 -40Z" fill="#fff" stroke="#fff" stroke-width="6.6" stroke-linejoin="round"/><path d="M25 -18Q30 26 6 50Q-6 48 -4 36Q0 2 25 -18Z" fill="#fff" stroke="#fff" stroke-width="6.6" stroke-linejoin="round"/></g><path d="M160 1503Q140 1509 137.5 1496Q136.5 1485 147 1486Q154 1488.5 150.5 1495" fill="none" stroke="#fff" stroke-width="8.5" stroke-linecap="round"/><path d="M238 1462L238.5 1509.5H249.5L252 1460Z" fill="#fff" stroke="#fff" stroke-width="6.6" stroke-linejoin="round"/><path d="M228 1424C205 1428 178 1440 166 1456C156 1468 151 1486 156 1500C160 1513 172 1520 186 1520H214C232 1515 247 1490 252 1458Z" fill="#fff" stroke="#fff" stroke-width="6.6" stroke-linejoin="round"/><path d="M223.5 1478L224.5 1520.5H236L238.5 1474Z" fill="#fff" stroke="#fff" stroke-width="6.6" stroke-linejoin="round"/><path d="M224.6 1418Q222 1403 228.8 1401.5Q236 1402 242 1410L232 1424Z" fill="#fff" stroke="#fff" stroke-width="6.6" stroke-linejoin="round"/><path d="M257 1411Q266 1400 273.5 1399Q278 1404 275.5 1413Q273 1420 268 1425Z" fill="#fff" stroke="#fff" stroke-width="6.6" stroke-linejoin="round"/><circle cx="249" cy="1434" r="25.3" fill="#fff" stroke="#fff" stroke-width="6.6" stroke-linejoin="round"/><g transform="translate(160 1432) rotate(25)"><ellipse cx="6" cy="-28" rx="17" ry="40" fill="#fdc70c"/><ellipse cx="9" cy="-56" rx="10.5" ry="10" fill="#f9a51a" opacity="0.85"/><g fill="#f39c12" opacity="0.85"><circle cx="-2" cy="-44" r="0.9"/><circle cx="-2" cy="-34" r="0.9"/><circle cx="-2" cy="-24" r="0.9"/><circle cx="-2" cy="-14" r="0.9"/><circle cx="-2" cy="-4" r="0.9"/><circle cx="5" cy="-44" r="0.9"/><circle cx="5" cy="-34" r="0.9"/><circle cx="5" cy="-24" r="0.9"/><circle cx="5" cy="-14" r="0.9"/><circle cx="5" cy="-4" r="0.9"/><circle cx="12" cy="-44" r="0.9"/><circle cx="12" cy="-34" r="0.9"/><circle cx="12" cy="-24" r="0.9"/><circle cx="12" cy="-14" r="0.9"/><circle cx="12" cy="-4" r="0.9"/></g><path d="M-17 -36Q-24 16 -10 48Q0 54 6 48Q-2 16 -4 -40Z" fill="#868a39"/><path d="M25 -18Q30 26 6 50Q-6 48 -4 36Q0 2 25 -18Z" fill="#a9b93c"/><path d="M-10 48Q-2 53 6 50Q0 28 3 6Q-9 26 -10 48Z" fill="#97a23b"/></g><path d="M160 1503Q140 1509 137.5 1496Q136.5 1485 147 1486Q154 1488.5 150.5 1495" fill="none" stroke="#f58ba0" stroke-width="2.8" stroke-linecap="round"/><path d="M238 1462L238.5 1509.5H249.5L252 1460Z" fill="#e97b57"/><path d="M228 1424C205 1428 178 1440 166 1456C156 1468 151 1486 156 1500C160 1513 172 1520 186 1520H214C232 1515 247 1490 252 1458Z" fill="#f3906e"/><path d="M223.5 1478L224.5 1520.5H236L238.5 1474Z" fill="#f3906e"/><path d="M224.6 1418Q222 1403 228.8 1401.5Q236 1402 242 1410L232 1424Z" fill="#f3906e"/><path d="M257 1411Q266 1400 273.5 1399Q278 1404 275.5 1413Q273 1420 268 1425Z" fill="#f3906e"/><circle cx="249" cy="1434" r="25.3" fill="#f3906e"/><ellipse cx="196" cy="1478" rx="27" ry="30" fill="#f6a583" opacity="0.4"/><path d="M228.5 1406Q226.5 1413 230.5 1418L238 1411.5Q233.5 1406 228.5 1406Z" fill="#f6a583"/><path d="M272.5 1403.5Q266 1405.5 262 1412L269.5 1419.5Q274 1411.5 272.5 1403.5Z" fill="#f6a583"/><rect x="223.7" y="1513.5" width="12.3" height="7.5" fill="#6b5048"/><rect x="237.7" y="1503.3" width="11.5" height="7.5" fill="#5b4037"/><path d="M210.6 1499.5h5.6v5h5.6v5h-5.6v5h5.6v5h-11.2z" fill="#6a5a55"/><path d="M216.2 1499.5h5.6v5h-5.6z" fill="#4e3b35"/><path d="M238.5 1432Q243 1425 247.5 1432M258.5 1432Q263 1425 267.5 1432" fill="none" stroke="#8c3b2a" stroke-width="1.9" stroke-linecap="round"/><circle cx="249.5" cy="1442" r="2" fill="#8c3b2a"/><circle cx="256.5" cy="1442" r="2" fill="#8c3b2a"/><path d="M246.5 1451Q253 1456.5 259.5 1451" fill="none" stroke="#8c3b2a" stroke-width="1.9" stroke-linecap="round"/></g>
<g><g fill="#fff" stroke="#fff" stroke-width="6.6" stroke-linejoin="round"><rect x="402" y="1418" width="56.5" height="85.6"/><rect x="408.3" y="1410.2" width="15.4" height="9"/><path d="M453.1 1503.6V1407Q453.1 1397.4 463 1397.4H502Q511.9 1397.4 511.9 1407V1492H512.4V1503.6Z"/><path d="M511 1386L520.5 1394L524.5 1408L525.5 1424Q525 1436 519.5 1437.5L520 1480Q518 1491 510 1490L512 1420Z" stroke-width="4.5"/></g><rect x="402" y="1418" width="28.5" height="85.6" fill="#ee4f7d"/><rect x="430" y="1418" width="28.5" height="85.6" fill="#f5849f"/><rect x="400.5" y="1418" width="59.5" height="3.8" rx="1.9" fill="#ea3f72"/><rect x="400.5" y="1458.8" width="59.5" height="3.8" rx="1.9" fill="#ea3f72"/><rect x="400.5" y="1499.8" width="59.5" height="3.8" rx="1.9" fill="#ea3f72"/><rect x="408.3" y="1410.2" width="15.4" height="8" rx="1.5" fill="#169a8c"/><path d="M453.1 1492.1V1407Q453.1 1397.4 463 1397.4H502Q511.9 1397.4 511.9 1407V1492.1Z" fill="#12988a"/><path d="M456.9 1492.1H512.4V1503.6H456.9Z" fill="#0f7d74"/><path d="M465.9 1407.7H496.6V1421.5H511.5V1426.9H465.9Z" fill="#0f7a72"/><path d="M474.5 1433Q474.5 1443 481 1452Q487.5 1461 487.5 1471M487.5 1433Q487.5 1443 481 1452Q474.5 1461 474.5 1471" fill="none" stroke="#fff" stroke-width="1.8" stroke-linecap="round"/><rect x="512" y="1428" width="4" height="62" fill="#fff"/><path d="M499.5 1428V1478Q499.5 1491 509.5 1491Q519.5 1491 519.5 1478V1436" fill="none" stroke="#ee4f7d" stroke-width="2.2"/><path d="M510.5 1420L516 1404L524 1408L525.5 1422Q526 1436 519.5 1437.5Q514 1437 514.5 1428Z" fill="#ee4f7d"/><path d="M516 1422V1431" stroke="#fff" stroke-width="1.6"/><path d="M511 1386L520.5 1394L523.5 1407L517.5 1405L516 1397L509 1391Z" fill="#bcbec0"/></g>
<path d="M133 1639.3L161.6 1667.9M161.6 1639.3L133 1667.9" stroke="#fff" stroke-width="9.7" stroke-linecap="round" fill="none"/>
<g><g fill="none" stroke="#fff" stroke-linecap="round" stroke-linejoin="round"><path d="M214 1690L189 1671L178 1727L142 1752" stroke-width="6.5"/><path d="M218 1690L204 1672L206 1726L181 1765" stroke-width="6.5"/><path d="M226 1700L232 1748L256 1757" stroke-width="6.5"/><path d="M230 1702L243 1736L262 1742" stroke-width="6.5"/><path d="M222 1697L214 1730L226 1750" stroke-width="6.5"/><path d="M238 1705L252 1752" stroke-width="6.5"/><path d="M240 1699L262 1680" stroke-width="4.5"/><path d="M240 1699L258 1675" stroke-width="4.5"/><path d="M240 1699L266 1688" stroke-width="4.5"/></g><g fill="#fff" stroke="#fff" stroke-width="5"><ellipse cx="186" cy="1706" rx="38" ry="8.5" transform="rotate(-18 186 1706)"/><ellipse cx="193" cy="1713" rx="27" ry="8" transform="rotate(-32 193 1713)"/><ellipse cx="220" cy="1691" rx="14" ry="9" transform="rotate(-15 220 1691)"/><circle cx="237" cy="1703" r="4"/></g><ellipse cx="186" cy="1706" rx="38" ry="8.5" transform="rotate(-18 186 1706)" fill="#a6dde6"/><ellipse cx="176" cy="1714" rx="26" ry="5.5" transform="rotate(-22 176 1714)" fill="#c9ebef"/><ellipse cx="195" cy="1712" rx="25" ry="6.5" transform="rotate(-32 195 1712)" fill="#d98a47"/><path d="M178 1722L184 1727M186 1716L192 1722M195 1710L200 1716M203 1704L208 1710" stroke="#b9622a" stroke-width="1.6"/><ellipse cx="220" cy="1691" rx="14" ry="9" transform="rotate(-15 220 1691)" fill="#b9622a"/><ellipse cx="217" cy="1688" rx="8" ry="4" transform="rotate(-15 217 1688)" fill="#d98a47"/><circle cx="237" cy="1703" r="3.6" fill="#4a3326"/><g fill="none" stroke="#b9622a" stroke-width="1.7" stroke-linecap="round" stroke-linejoin="round"><path d="M214 1690L189 1671L178 1727L142 1752"/><path d="M218 1690L204 1672L206 1726L181 1765"/><path d="M226 1700L232 1748L256 1757"/><path d="M230 1702L243 1736L262 1742"/><path d="M222 1697L214 1730L226 1750"/><path d="M238 1705L252 1752"/></g></g>
<g transform="translate(437.7 1735.5) rotate(46.8)"><g fill="#fff" stroke="#fff" stroke-width="5.2" stroke-linejoin="round"><rect x="-14.5" y="-91.5" width="29" height="91.5" rx="3"/><ellipse cx="0" cy="0" rx="27" ry="5.9"/><rect x="-5.2" y="0" width="10.4" height="40"/><ellipse cx="0" cy="41.5" rx="17" ry="5.2"/><path d="M0 -89.5V-129.5" stroke-width="8.1" stroke-linecap="round"/></g><path d="M-1.5 -95.5H1.5V-125.8L-1 -132.5Z" fill="#4d4d4f"/><ellipse cx="0" cy="43" rx="17" ry="4.2" fill="#2a94d6"/><ellipse cx="0" cy="40" rx="17" ry="3.9" fill="#1c75bc"/><path d="M-5.2 0H5.2V38Q0 41.5 -5.2 38Z" fill="#c9e6f6"/><path d="M-14 -46H14V0Q0 3.8 -14 0Z" fill="#3aa9c9" opacity="0.95"/><path d="M-5.8 -46H5.8V3H-5.8Z" fill="#6ecbf3"/><ellipse cx="0" cy="1" rx="27" ry="4.9" fill="#3aa7d8" opacity="0.9"/><ellipse cx="0" cy="-1" rx="27" ry="4.5" fill="#62c0e6" opacity="0.85"/><path d="M-14 -3.8Q0 -0.6 14 -3.8V-7.8H-14Z" fill="#3aa9c9" opacity="0.9"/><path d="M-5.8 -7.8H5.8V-2Q0 -1.3 -5.8 -2Z" fill="#6ecbf3"/><path d="M-14.5 -52.5H14.5V-46Q0 -42.8 -14.5 -46Z" fill="#fff"/><path d="M-14.5 -89.5H14.5V-52.5Q0 -49.3 -14.5 -52.5Z" fill="#8f3f9b"/><ellipse cx="0" cy="-89.5" rx="14.5" ry="3.2" fill="#5e4aa0"/><rect x="-3.2" y="-96.5" width="6.4" height="7" fill="#a7a9ac"/></g>
<text x="203.9" y="1284.4" text-anchor="middle" font-size="28" letter-spacing="1.25" fill="#f0957a" font-weight="normal" stroke="#f0957a" stroke-width="0.5">Designer</text>
<text x="203.9" y="1313.2" text-anchor="middle" font-size="28" letter-spacing="1.25" fill="#f0957a" font-weight="normal" stroke="#f0957a" stroke-width="0.5">Organisms</text>
<text x="468" y="1284.4" text-anchor="middle" font-size="28" letter-spacing="1.25" fill="#000" font-weight="normal" stroke="#000" stroke-width="0.9">Human</text>
<text x="468" y="1313.7" text-anchor="middle" font-size="28" letter-spacing="1.25" fill="#000" font-weight="normal" stroke="#000" stroke-width="0.9">Modification</text>
<text x="196.3" y="1558.8" text-anchor="middle" font-size="28" letter-spacing="1.25" fill="#000" font-weight="normal" stroke="#000" stroke-width="0.9">Food and Livestock</text>
<text x="196.3" y="1588.1" text-anchor="middle" font-size="28" letter-spacing="1.25" fill="#000" font-weight="normal" stroke="#000" stroke-width="0.9">Modification</text>
<text x="456.6" y="1563.3" text-anchor="middle" font-size="28" letter-spacing="1.25" fill="#000" font-weight="normal" stroke="#000" stroke-width="0.9">Fuel</text>
<text x="456.6" y="1592.7" text-anchor="middle" font-size="28" letter-spacing="1.25" fill="#000" font-weight="normal" stroke="#000" stroke-width="0.9">Production</text>
<text x="198.2" y="1822.9" text-anchor="middle" font-size="28" letter-spacing="1.25" fill="#000" font-weight="normal" stroke="#000" stroke-width="0.9">Gene Drive</text>
<text x="468" y="1819.9" text-anchor="middle" font-size="28" letter-spacing="1.25" fill="#000" font-weight="normal" stroke="#000" stroke-width="0.9">Gene Therapy</text>
</svg>
</body></html>
